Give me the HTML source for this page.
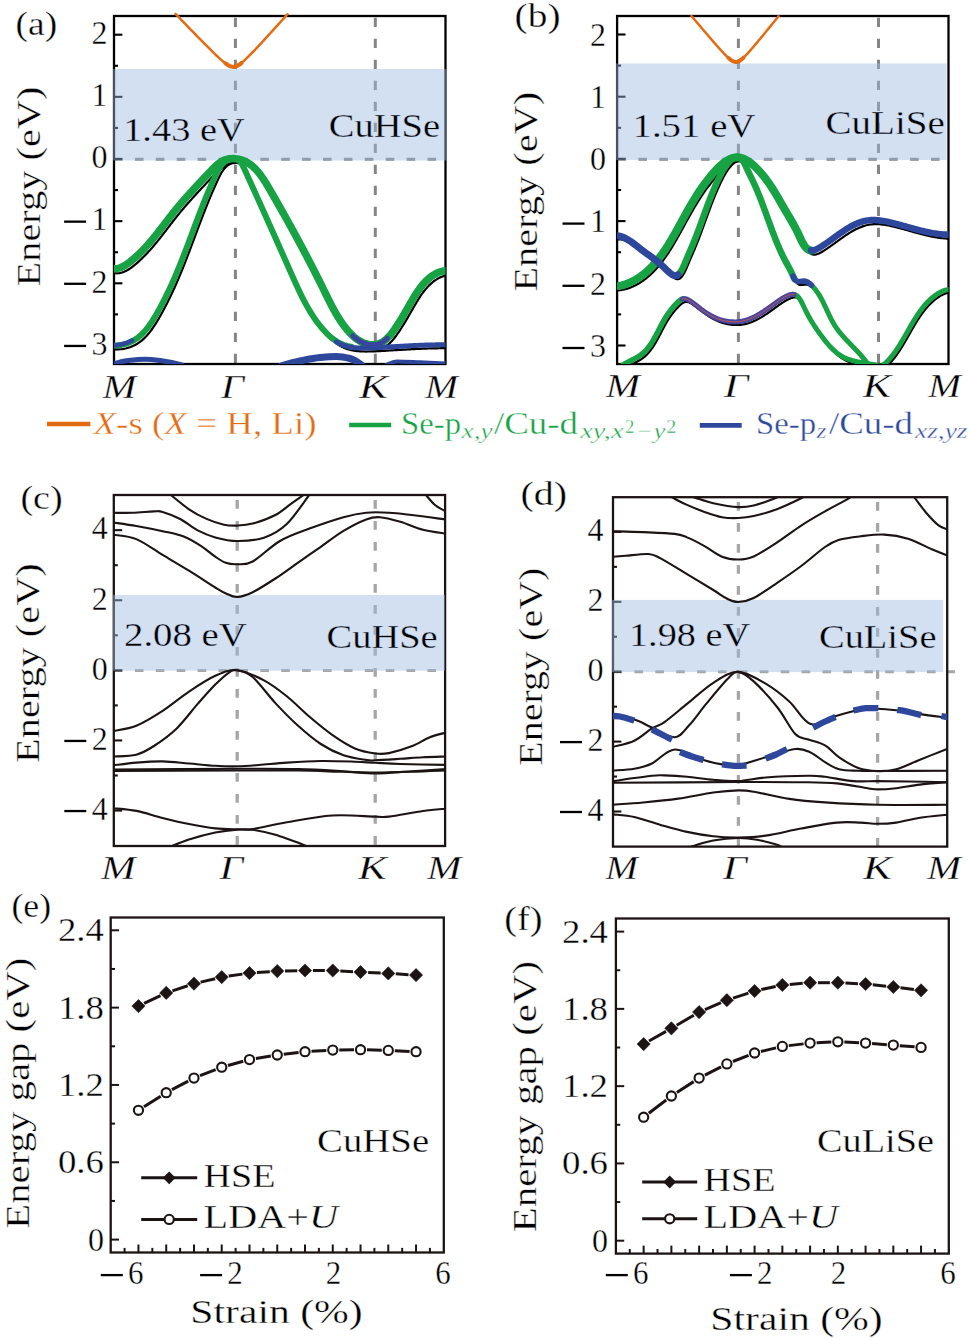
<!DOCTYPE html><html><head><meta charset="utf-8"><style>html,body{margin:0;padding:0;background:#fff;width:969px;height:1338px;overflow:hidden}svg{display:block}text{font-family:"Liberation Serif",serif;stroke:#fff;stroke-width:0.35px}</style></head><body>
<svg width="969" height="1338" viewBox="0 0 969 1338">
<rect width="969" height="1338" fill="#fff"/>
<clipPath id="ca"><rect x="114" y="16" width="331.5" height="348"/></clipPath>
<line x1="114" y1="159.2" x2="446" y2="159.2" stroke="#858585" stroke-width="3" stroke-dasharray="8.6 12.3" stroke-dashoffset="0"/>
<line x1="235.4" y1="17.8" x2="235.4" y2="364" stroke="#858585" stroke-width="3" stroke-dasharray="9.2 11.8" stroke-dashoffset="0"/>
<line x1="375.3" y1="17.8" x2="375.3" y2="364" stroke="#858585" stroke-width="3" stroke-dasharray="9.2 11.8" stroke-dashoffset="0"/>
<rect x="114" y="16" width="331.5" height="348" fill="none" stroke="#000" stroke-width="2.3"/>
<line x1="114" y1="34.7" x2="122.4" y2="34.7" stroke="#000" stroke-width="2.1"/>
<line x1="114" y1="96.85" x2="122.4" y2="96.85" stroke="#000" stroke-width="2.1"/>
<line x1="114" y1="159" x2="122.4" y2="159" stroke="#000" stroke-width="2.1"/>
<line x1="114" y1="221.15" x2="122.4" y2="221.15" stroke="#000" stroke-width="2.1"/>
<line x1="114" y1="283.3" x2="122.4" y2="283.3" stroke="#000" stroke-width="2.1"/>
<line x1="114" y1="345.45" x2="122.4" y2="345.45" stroke="#000" stroke-width="2.1"/>
<line x1="114" y1="65.78" x2="118" y2="65.78" stroke="#000" stroke-width="2.1"/>
<line x1="114" y1="127.92" x2="118" y2="127.92" stroke="#000" stroke-width="2.1"/>
<line x1="114" y1="190.07" x2="118" y2="190.07" stroke="#000" stroke-width="2.1"/>
<line x1="114" y1="252.22" x2="118" y2="252.22" stroke="#000" stroke-width="2.1"/>
<line x1="114" y1="314.38" x2="118" y2="314.38" stroke="#000" stroke-width="2.1"/>
<rect x="113" y="69" width="333.5" height="91.5" fill="rgba(155,186,226,0.45)"/>
<g clip-path="url(#ca)">
<path d="M86.56,252.37 L87.37,253.33 L88.24,254.34 L89.15,255.38 L90.11,256.45 L91.12,257.54 L92.17,258.64 L93.26,259.75 L94.39,260.87 L95.55,261.98 L96.75,263.07 L97.97,264.15 L99.22,265.2 L100.5,266.21 L101.8,267.19 L103.12,268.12 L104.46,268.99 L105.81,269.8 L107.17,270.55 L108.55,271.22 L109.93,271.81 L111.32,272.31 L112.71,272.71 L114.09,273.01 L115.48,273.2 L116.86,273.28 L118.23,273.23 L119.6,273.07 L120.95,272.79 L122.3,272.41 L123.63,271.94 L124.96,271.37 L126.27,270.73 L127.57,270.01 L128.85,269.23 L130.12,268.39 L131.38,267.51 L132.62,266.58 L133.85,265.61 L135.06,264.62 L136.26,263.61 L137.44,262.59 L138.6,261.56 L139.74,260.52 L140.87,259.46 L141.98,258.4 L143.08,257.33 L144.16,256.25 L145.23,255.17 L146.29,254.07 L147.34,252.97 L148.37,251.86 L149.39,250.74 L150.4,249.62 L151.4,248.49 L152.39,247.35 L153.37,246.21 L154.35,245.06 L155.31,243.91 L156.27,242.75 L157.22,241.59 L158.16,240.42 L159.1,239.26 L160.03,238.08 L160.96,236.91 L161.88,235.73 L162.8,234.55 L163.72,233.37 L164.63,232.19 L165.54,231 L166.45,229.82 L167.36,228.63 L168.27,227.45 L169.18,226.26 L170.09,225.08 L171,223.89 L171.91,222.71 L172.83,221.53 L173.75,220.35 L174.67,219.17 L175.59,217.99 L176.52,216.82 L177.46,215.65 L178.4,214.49 L179.35,213.32 L180.3,212.17 L181.26,211.01 L182.22,209.86 L183.19,208.72 L184.17,207.57 L185.15,206.43 L186.14,205.3 L187.13,204.16 L188.12,203.03 L189.12,201.91 L190.12,200.78 L191.13,199.66 L192.14,198.54 L193.15,197.43 L194.16,196.31 L195.18,195.2 L196.2,194.09 L197.22,192.99 L198.24,191.88 L199.27,190.78 L200.29,189.68 L201.32,188.58 L202.34,187.48 L203.37,186.38 L204.4,185.29 L205.42,184.19 L206.45,183.1 L207.47,182.01 L208.5,180.91 L209.54,179.82 L210.58,178.72 L211.62,177.61 L212.68,176.5 L213.75,175.38 L214.83,174.25 L215.93,173.12 L217.05,172.01 L218.19,170.91 L219.35,169.85 L220.53,168.83 L221.74,167.86 L222.98,166.96 L224.25,166.13 L225.56,165.39 L226.9,164.75 L228.27,164.21 L229.68,163.77 L231.11,163.43 L232.56,163.18 L234.03,163.03 L235.5,162.97 L236.98,162.99 L238.46,163.1 L239.93,163.28 L241.39,163.55 L242.83,163.88 L244.24,164.29 L245.63,164.76 L246.99,165.29 L248.31,165.89 L249.59,166.54 L250.83,167.25 L252.04,168.02 L253.21,168.83 L254.36,169.7 L255.47,170.61 L256.55,171.56 L257.6,172.56 L258.63,173.59 L259.63,174.67 L260.61,175.77 L261.57,176.91 L262.5,178.08 L263.42,179.28 L264.31,180.5 L265.19,181.75 L266.05,183.02 L266.9,184.3 L267.74,185.6 L268.56,186.92 L269.38,188.24 L270.18,189.58 L270.98,190.92 L271.77,192.27 L272.56,193.61 L273.34,194.96 L274.12,196.31 L274.9,197.65 L275.67,198.99 L276.45,200.33 L277.22,201.67 L277.99,203.01 L278.75,204.34 L279.52,205.68 L280.28,207.01 L281.04,208.34 L281.8,209.67 L282.55,210.99 L283.31,212.32 L284.06,213.65 L284.81,214.97 L285.55,216.29 L286.3,217.61 L287.04,218.93 L287.78,220.25 L288.52,221.57 L289.26,222.89 L289.99,224.21 L290.72,225.52 L291.45,226.84 L292.18,228.15 L292.91,229.47 L293.64,230.78 L294.36,232.1 L295.08,233.41 L295.8,234.72 L296.52,236.03 L297.24,237.35 L297.95,238.66 L298.67,239.97 L299.38,241.28 L300.09,242.59 L300.8,243.9 L301.5,245.22 L302.21,246.53 L302.91,247.84 L303.61,249.15 L304.32,250.47 L305.02,251.78 L305.71,253.09 L306.41,254.41 L307.11,255.72 L307.8,257.04 L308.49,258.35 L309.18,259.67 L309.87,260.98 L310.56,262.3 L311.25,263.62 L311.94,264.94 L312.62,266.26 L313.31,267.58 L313.99,268.91 L314.67,270.23 L315.35,271.55 L316.03,272.88 L316.71,274.21 L317.39,275.54 L318.07,276.87 L318.74,278.2 L319.42,279.53 L320.09,280.87 L320.76,282.21 L321.44,283.54 L322.11,284.88 L322.78,286.23 L323.45,287.57 L324.12,288.92 L324.79,290.26 L325.45,291.61 L326.12,292.97 L326.79,294.32 L327.45,295.68 L328.12,297.03 L328.78,298.39 L329.45,299.75 L330.12,301.12 L330.79,302.48 L331.46,303.84 L332.14,305.19 L332.83,306.55 L333.51,307.9 L334.21,309.25 L334.91,310.6 L335.62,311.94 L336.34,313.28 L337.06,314.61 L337.8,315.93 L338.55,317.25 L339.31,318.56 L340.08,319.86 L340.86,321.16 L341.66,322.44 L342.47,323.72 L343.3,324.98 L344.14,326.23 L345,327.47 L345.88,328.7 L346.78,329.92 L347.69,331.12 L348.62,332.31 L349.58,333.48 L350.55,334.64 L351.55,335.78 L352.57,336.91 L353.61,338.02 L354.68,339.1 L355.78,340.17 L356.92,341.19 L358.09,342.18 L359.3,343.13 L360.56,344.03 L361.86,344.88 L363.22,345.67 L364.62,346.4 L366.05,347.05 L367.5,347.63 L368.98,348.14 L370.47,348.55 L371.96,348.88 L373.45,349.11 L374.92,349.24 L376.38,349.26 L377.82,349.17 L379.22,348.96 L380.58,348.64 L381.91,348.21 L383.2,347.67 L384.46,347.03 L385.69,346.31 L386.88,345.5 L388.04,344.61 L389.17,343.65 L390.28,342.63 L391.35,341.55 L392.4,340.41 L393.42,339.24 L394.41,338.02 L395.38,336.78 L396.33,335.5 L397.25,334.22 L398.16,332.91 L399.04,331.61 L399.9,330.31 L400.74,329.01 L401.56,327.72 L402.37,326.44 L403.17,325.17 L403.95,323.9 L404.71,322.64 L405.47,321.38 L406.22,320.12 L406.97,318.86 L407.71,317.6 L408.44,316.34 L409.17,315.07 L409.9,313.8 L410.64,312.53 L411.37,311.24 L412.11,309.94 L412.86,308.64 L413.61,307.32 L414.37,306 L415.14,304.68 L415.92,303.35 L416.71,302.03 L417.51,300.7 L418.32,299.39 L419.15,298.08 L420,296.78 L420.87,295.49 L421.75,294.22 L422.65,292.96 L423.57,291.73 L424.51,290.52 L425.48,289.33 L426.47,288.17 L427.48,287.03 L428.52,285.93 L429.59,284.87 L430.69,283.84 L431.81,282.85 L432.97,281.9 L434.16,281 L435.38,280.14 L436.64,279.33 L437.93,278.57 L439.25,277.86 L440.6,277.22 L441.98,276.66 L443.38,276.18 L444.79,275.78 L446.22,275.49 L447.65,275.3 L449.09,275.23 L450.52,275.27 L451.95,275.44 L453.37,275.72 L454.77,276.1 L456.15,276.58 L457.51,277.16 L458.84,277.83 L460.13,278.58 L461.39,279.41 L462.61,280.31 L463.79,281.28 L464.94,282.31 L466.06,283.39 L467.15,284.53 L468.21,285.71 L469.24,286.93 L470.25,288.18 L471.23,289.47 L472.19,290.77 L473.13,292.1 L474.04,293.43 L474.94,294.77 L475.81,296.12 L476.68,297.45 L477.52,298.78 L478.36,300.1 L479.18,301.39 L479.98,302.65 L480.78,303.89 L481.58,305.09 L482.36,306.24 L483.14,307.35 L483.92,308.4 L484.69,309.39" fill="none" stroke="#000" stroke-width="2.2" stroke-linecap="round" stroke-linejoin="round" />
<path d="M91.91,341.05 L93.09,342 L94.31,342.9 L95.56,343.74 L96.86,344.52 L98.18,345.24 L99.53,345.91 L100.92,346.51 L102.32,347.06 L103.75,347.55 L105.2,347.98 L106.67,348.36 L108.15,348.68 L109.65,348.95 L111.16,349.16 L112.67,349.31 L114.19,349.41 L115.71,349.45 L117.23,349.44 L118.75,349.37 L120.27,349.25 L121.78,349.08 L123.28,348.85 L124.76,348.57 L126.24,348.24 L127.69,347.86 L129.13,347.42 L130.54,346.93 L131.93,346.39 L133.29,345.8 L134.62,345.16 L135.92,344.47 L137.18,343.73 L138.42,342.94 L139.62,342.1 L140.79,341.23 L141.93,340.3 L143.04,339.34 L144.13,338.35 L145.19,337.31 L146.22,336.25 L147.23,335.15 L148.21,334.02 L149.17,332.86 L150.12,331.68 L151.04,330.47 L151.94,329.24 L152.82,327.99 L153.69,326.73 L154.53,325.45 L155.37,324.15 L156.19,322.84 L156.99,321.52 L157.79,320.2 L158.57,318.87 L159.34,317.53 L160.1,316.19 L160.85,314.86 L161.6,313.52 L162.34,312.18 L163.06,310.84 L163.79,309.5 L164.5,308.16 L165.2,306.82 L165.9,305.48 L166.59,304.13 L167.28,302.79 L167.96,301.44 L168.63,300.1 L169.29,298.75 L169.95,297.4 L170.6,296.06 L171.25,294.71 L171.88,293.35 L172.52,292 L173.15,290.65 L173.77,289.29 L174.39,287.93 L175,286.58 L175.61,285.21 L176.21,283.85 L176.81,282.49 L177.4,281.12 L177.99,279.75 L178.58,278.38 L179.16,277.01 L179.74,275.64 L180.31,274.26 L180.88,272.88 L181.45,271.5 L182.01,270.12 L182.58,268.74 L183.13,267.35 L183.69,265.96 L184.24,264.57 L184.79,263.18 L185.34,261.79 L185.89,260.39 L186.43,259 L186.97,257.6 L187.51,256.2 L188.05,254.8 L188.59,253.4 L189.12,252 L189.65,250.59 L190.19,249.19 L190.72,247.78 L191.25,246.38 L191.78,244.97 L192.31,243.56 L192.83,242.15 L193.36,240.74 L193.89,239.34 L194.42,237.93 L194.94,236.51 L195.47,235.1 L196,233.69 L196.53,232.28 L197.05,230.87 L197.58,229.46 L198.11,228.05 L198.64,226.64 L199.18,225.23 L199.71,223.82 L200.24,222.41 L200.78,221 L201.32,219.59 L201.85,218.18 L202.39,216.77 L202.94,215.37 L203.48,213.96 L204.03,212.55 L204.58,211.15 L205.13,209.75 L205.68,208.34 L206.24,206.94 L206.8,205.54 L207.36,204.14 L207.93,202.74 L208.5,201.35 L209.07,199.95 L209.65,198.56 L210.23,197.17 L210.81,195.78 L211.4,194.39 L211.99,193 L212.58,191.62 L213.18,190.23 L213.79,188.85 L214.4,187.47 L215.01,186.1 L215.63,184.72 L216.25,183.35 L216.88,181.98 L217.52,180.61 L218.15,179.25 L218.8,177.88 L219.45,176.52 L220.12,175.18 L220.82,173.84 L221.56,172.54 L222.36,171.26 L223.22,170.02 L224.16,168.83 L225.19,167.69 L226.32,166.61 L227.56,165.6 L228.89,164.68 L230.29,163.87 L231.73,163.2 L233.2,162.68 L234.66,162.35 L236.09,162.23 L237.47,162.34 L238.78,162.7 L240.01,163.29 L241.15,164.09 L242.21,165.06 L243.18,166.16 L244.05,167.36 L244.85,168.63 L245.58,169.95 L246.25,171.31 L246.9,172.7 L247.54,174.09 L248.17,175.49 L248.81,176.88 L249.44,178.27 L250.07,179.66 L250.7,181.05 L251.33,182.44 L251.96,183.83 L252.59,185.21 L253.22,186.6 L253.84,187.98 L254.47,189.36 L255.1,190.74 L255.72,192.13 L256.35,193.51 L256.97,194.88 L257.59,196.26 L258.22,197.64 L258.84,199.02 L259.46,200.39 L260.08,201.77 L260.7,203.14 L261.32,204.52 L261.94,205.89 L262.56,207.26 L263.18,208.64 L263.79,210.01 L264.41,211.38 L265.03,212.75 L265.64,214.12 L266.26,215.49 L266.87,216.86 L267.49,218.23 L268.1,219.6 L268.72,220.97 L269.33,222.33 L269.95,223.7 L270.56,225.07 L271.17,226.44 L271.78,227.8 L272.4,229.17 L273.01,230.54 L273.62,231.9 L274.23,233.27 L274.84,234.64 L275.45,236 L276.07,237.37 L276.68,238.74 L277.29,240.1 L277.9,241.47 L278.51,242.84 L279.12,244.21 L279.73,245.57 L280.34,246.94 L280.95,248.31 L281.56,249.68 L282.17,251.05 L282.78,252.41 L283.38,253.78 L283.99,255.15 L284.6,256.52 L285.21,257.89 L285.82,259.26 L286.43,260.63 L287.04,262.01 L287.65,263.38 L288.26,264.75 L288.87,266.12 L289.48,267.5 L290.09,268.87 L290.7,270.25 L291.31,271.62 L291.92,273 L292.53,274.38 L293.14,275.76 L293.75,277.14 L294.36,278.52 L294.98,279.9 L295.59,281.28 L296.2,282.66 L296.82,284.04 L297.44,285.42 L298.06,286.8 L298.69,288.18 L299.31,289.55 L299.95,290.93 L300.58,292.3 L301.22,293.67 L301.87,295.03 L302.52,296.4 L303.18,297.76 L303.84,299.12 L304.51,300.47 L305.19,301.82 L305.88,303.16 L306.57,304.5 L307.27,305.84 L307.99,307.17 L308.71,308.49 L309.44,309.81 L310.18,311.12 L310.93,312.43 L311.69,313.73 L312.46,315.02 L313.25,316.3 L314.04,317.58 L314.85,318.85 L315.67,320.11 L316.51,321.36 L317.36,322.6 L318.22,323.83 L319.1,325.06 L319.99,326.27 L320.9,327.48 L321.82,328.67 L322.76,329.85 L323.72,331.03 L324.69,332.19 L325.69,333.34 L326.7,334.47 L327.72,335.59 L328.77,336.68 L329.83,337.75 L330.92,338.8 L332.02,339.82 L333.15,340.8 L334.29,341.76 L335.46,342.68 L336.65,343.56 L337.86,344.4 L339.09,345.19 L340.34,345.94 L341.62,346.65 L342.92,347.3 L344.25,347.89 L345.6,348.44 L346.97,348.93 L348.36,349.37 L349.77,349.76 L351.21,350.1 L352.66,350.4 L354.12,350.66 L355.6,350.88 L357.1,351.06 L358.6,351.21 L360.12,351.33 L361.65,351.42 L363.18,351.48 L364.72,351.52 L366.27,351.53 L367.82,351.52 L369.38,351.5 L370.93,351.46 L372.49,351.41 L374.04,351.35 L375.6,351.28 L377.15,351.2 L378.69,351.12 L380.23,351.04 L381.76,350.96 L383.29,350.87 L384.81,350.79 L386.33,350.7 L387.84,350.61 L389.35,350.52 L390.85,350.43 L392.35,350.35 L393.85,350.26 L395.35,350.17 L396.84,350.08 L398.33,349.99 L399.81,349.9 L401.3,349.81 L402.78,349.72 L404.26,349.63 L405.74,349.55 L407.22,349.46 L408.7,349.38 L410.18,349.3 L411.66,349.22 L413.13,349.14 L414.61,349.07 L416.09,348.99 L417.57,348.92 L419.05,348.85 L420.53,348.79 L422.02,348.73 L423.5,348.67 L424.99,348.61 L426.48,348.56 L427.97,348.51 L429.47,348.46 L430.96,348.42 L432.46,348.38 L433.96,348.34 L435.46,348.31 L436.96,348.28 L438.46,348.25 L439.96,348.23 L441.47,348.2 L442.97,348.19 L444.48,348.17 L445.99,348.16 L447.5,348.15 L449.01,348.15 L450.52,348.15 L452.03,348.15 L453.54,348.16 L455.06,348.17 L456.57,348.18 L458.08,348.19 L459.6,348.21 L461.11,348.24 L462.63,348.26 L464.14,348.29 L465.66,348.32 L467.17,348.36 L468.69,348.4 L470.2,348.44 L471.71,348.49 L473.23,348.54 L474.74,348.59 L476.25,348.64 L477.77,348.7 L479.28,348.77 L480.79,348.83 L482.3,348.9 L483.81,348.98 L485.32,349.05 L486.83,349.13 L488.33,349.22 L489.84,349.3 L491.35,349.39 L492.85,349.49 L494.35,349.58 L495.85,349.69 L497.35,349.79 L498.85,349.9 L500.34,350.01 L501.84,350.12 L503.33,350.24 L504.82,350.36 L506.31,350.49 L507.8,350.62 L509.28,350.75 L510.77,350.89 L512.25,351.03 L513.73,351.17 L515.2,351.31 L516.68,351.46 L518.15,351.62" fill="none" stroke="#000" stroke-width="2.2" stroke-linecap="round" stroke-linejoin="round" />
<path d="M83.56,247.97 L84.37,248.93 L85.24,249.94 L86.15,250.98 L87.11,252.05 L88.12,253.14 L89.17,254.24 L90.26,255.35 L91.39,256.47 L92.55,257.58 L93.75,258.67 L94.97,259.75 L96.22,260.8 L97.5,261.81 L98.8,262.79 L100.12,263.72 L101.46,264.59 L102.81,265.4 L104.17,266.15 L105.55,266.82 L106.93,267.41 L108.32,267.91 L109.71,268.31 L111.09,268.61 L112.48,268.8 L113.86,268.88 L115.23,268.83 L116.6,268.67 L117.95,268.39 L119.3,268.01 L120.63,267.54 L121.96,266.97 L123.27,266.33 L124.57,265.61 L125.85,264.83 L127.12,263.99 L128.38,263.11 L129.62,262.18 L130.85,261.21 L132.06,260.22 L133.26,259.21 L134.44,258.19 L135.6,257.16 L136.74,256.12 L137.87,255.06 L138.98,254 L140.08,252.93 L141.16,251.85 L142.23,250.77 L143.29,249.67 L144.34,248.57 L145.37,247.46 L146.39,246.34 L147.4,245.22 L148.4,244.09 L149.39,242.95 L150.37,241.81 L151.35,240.66 L152.31,239.51 L153.27,238.35 L154.22,237.19 L155.16,236.02 L156.1,234.86 L157.03,233.68 L157.96,232.51 L158.88,231.33 L159.8,230.15 L160.72,228.97 L161.63,227.79 L162.54,226.6 L163.45,225.42 L164.36,224.23 L165.27,223.05 L166.18,221.86 L167.09,220.68 L168,219.49 L168.91,218.31 L169.83,217.13 L170.75,215.95 L171.67,214.77 L172.59,213.59 L173.52,212.42 L174.46,211.25 L175.4,210.09 L176.35,208.92 L177.3,207.77 L178.26,206.61 L179.22,205.46 L180.19,204.32 L181.17,203.17 L182.15,202.03 L183.14,200.9 L184.13,199.76 L185.12,198.63 L186.12,197.51 L187.12,196.38 L188.13,195.26 L189.14,194.14 L190.15,193.03 L191.16,191.91 L192.18,190.8 L193.2,189.69 L194.22,188.59 L195.24,187.48 L196.27,186.38 L197.29,185.28 L198.32,184.18 L199.34,183.08 L200.37,181.98 L201.4,180.89 L202.42,179.79 L203.45,178.7 L204.47,177.61 L205.5,176.51 L206.54,175.42 L207.58,174.32 L208.62,173.21 L209.68,172.1 L210.75,170.98 L211.83,169.85 L212.93,168.72 L214.05,167.61 L215.19,166.51 L216.35,165.45 L217.53,164.43 L218.74,163.46 L219.98,162.56 L221.25,161.73 L222.56,160.99 L223.9,160.35 L225.27,159.81 L226.68,159.37 L228.11,159.03 L229.56,158.78 L231.03,158.63 L232.5,158.57 L233.98,158.59 L235.46,158.7 L236.93,158.88 L238.39,159.15 L239.83,159.48 L241.24,159.89 L242.63,160.36 L243.99,160.89 L245.31,161.49 L246.59,162.14 L247.83,162.85 L249.04,163.62 L250.21,164.43 L251.36,165.3 L252.47,166.21 L253.55,167.16 L254.6,168.16 L255.63,169.19 L256.63,170.27 L257.61,171.37 L258.57,172.51 L259.5,173.68 L260.42,174.88 L261.31,176.1 L262.19,177.35 L263.05,178.62 L263.9,179.9 L264.74,181.2 L265.56,182.52 L266.38,183.84 L267.18,185.18 L267.98,186.52 L268.77,187.87 L269.56,189.21 L270.34,190.56 L271.12,191.91 L271.9,193.25 L272.67,194.59 L273.45,195.93 L274.22,197.27 L274.99,198.61 L275.75,199.94 L276.52,201.28 L277.28,202.61 L278.04,203.94 L278.8,205.27 L279.55,206.59 L280.31,207.92 L281.06,209.25 L281.81,210.57 L282.55,211.89 L283.3,213.21 L284.04,214.53 L284.78,215.85 L285.52,217.17 L286.26,218.49 L286.99,219.81 L287.72,221.12 L288.45,222.44 L289.18,223.75 L289.91,225.07 L290.64,226.38 L291.36,227.7 L292.08,229.01 L292.8,230.32 L293.52,231.63 L294.24,232.95 L294.95,234.26 L295.67,235.57 L296.38,236.88 L297.09,238.19 L297.8,239.5 L298.5,240.82 L299.21,242.13 L299.91,243.44 L300.61,244.75 L301.32,246.07 L302.02,247.38 L302.71,248.69 L303.41,250.01 L304.11,251.32 L304.8,252.64 L305.49,253.95 L306.18,255.27 L306.87,256.58 L307.56,257.9 L308.25,259.22 L308.94,260.54 L309.62,261.86 L310.31,263.18 L310.99,264.51 L311.67,265.83 L312.35,267.15 L313.03,268.48 L313.71,269.81 L314.39,271.14 L315.07,272.47 L315.74,273.8 L316.42,275.13 L317.09,276.47 L317.76,277.81 L318.44,279.14 L319.11,280.48 L319.78,281.83 L320.45,283.17 L321.12,284.52 L321.79,285.86 L322.45,287.21 L323.12,288.57 L323.79,289.92 L324.45,291.28 L325.12,292.63 L325.78,293.99 L326.45,295.35 L327.12,296.72 L327.79,298.08 L328.46,299.44 L329.14,300.79 L329.83,302.15 L330.51,303.5 L331.21,304.85 L331.91,306.2 L332.62,307.54 L333.34,308.88 L334.06,310.21 L334.8,311.53 L335.55,312.85 L336.31,314.16 L337.08,315.46 L337.86,316.76 L338.66,318.04 L339.47,319.32 L340.3,320.58 L341.14,321.83 L342,323.07 L342.88,324.3 L343.78,325.52 L344.69,326.72 L345.62,327.91 L346.58,329.08 L347.55,330.24 L348.55,331.38 L349.57,332.51 L350.61,333.62 L351.68,334.7 L352.78,335.77 L353.92,336.79 L355.09,337.78 L356.3,338.73 L357.56,339.63 L358.86,340.48 L360.22,341.27 L361.62,342 L363.05,342.65 L364.5,343.23 L365.98,343.74 L367.47,344.15 L368.96,344.48 L370.45,344.71 L371.92,344.84 L373.38,344.86 L374.82,344.77 L376.22,344.56 L377.58,344.24 L378.91,343.81 L380.2,343.27 L381.46,342.63 L382.69,341.91 L383.88,341.1 L385.04,340.21 L386.17,339.25 L387.28,338.23 L388.35,337.15 L389.4,336.01 L390.42,334.84 L391.41,333.62 L392.38,332.38 L393.33,331.1 L394.25,329.82 L395.16,328.51 L396.04,327.21 L396.9,325.91 L397.74,324.61 L398.56,323.32 L399.37,322.04 L400.17,320.77 L400.95,319.5 L401.71,318.24 L402.47,316.98 L403.22,315.72 L403.97,314.46 L404.71,313.2 L405.44,311.94 L406.17,310.67 L406.9,309.4 L407.64,308.13 L408.37,306.84 L409.11,305.54 L409.86,304.24 L410.61,302.92 L411.37,301.6 L412.14,300.28 L412.92,298.95 L413.71,297.63 L414.51,296.3 L415.32,294.99 L416.15,293.68 L417,292.38 L417.87,291.09 L418.75,289.82 L419.65,288.56 L420.57,287.33 L421.51,286.12 L422.48,284.93 L423.47,283.77 L424.48,282.63 L425.52,281.53 L426.59,280.47 L427.69,279.44 L428.81,278.45 L429.97,277.5 L431.16,276.6 L432.38,275.74 L433.64,274.93 L434.93,274.17 L436.25,273.46 L437.6,272.82 L438.98,272.26 L440.38,271.78 L441.79,271.38 L443.22,271.09 L444.65,270.9 L446.09,270.83 L447.52,270.87 L448.95,271.04 L450.37,271.32 L451.77,271.7 L453.15,272.18 L454.51,272.76 L455.84,273.43 L457.13,274.18 L458.39,275.01 L459.61,275.91 L460.79,276.88 L461.94,277.91 L463.06,278.99 L464.15,280.13 L465.21,281.31 L466.24,282.53 L467.25,283.78 L468.23,285.07 L469.19,286.37 L470.13,287.7 L471.04,289.03 L471.94,290.37 L472.81,291.72 L473.68,293.05 L474.52,294.38 L475.36,295.7 L476.18,296.99 L476.98,298.25 L477.78,299.49 L478.58,300.69 L479.36,301.84 L480.14,302.95 L480.92,304 L481.69,304.99" fill="none" stroke="#17a244" stroke-width="7.5" stroke-linecap="round" stroke-linejoin="round" />
<path d="M101.15,343.65 L102.6,344.08 L104.07,344.46 L105.55,344.78 L107.05,345.05 L108.56,345.26 L110.07,345.41 L111.59,345.51 L113.11,345.55 L114.63,345.54 L116.15,345.47 L117.67,345.35 L119.18,345.18 L120.68,344.95 L122.16,344.67 L123.64,344.34 L125.09,343.96 L126.53,343.52 L127.94,343.03 L129.33,342.49 L130.69,341.9 L132.02,341.26 L133.32,340.57 L134.58,339.83 L135.82,339.04 L137.02,338.2 L138.19,337.33 L139.33,336.4 L140.44,335.44 L141.53,334.45 L142.59,333.41 L143.62,332.35 L144.63,331.25 L145.61,330.12 L146.57,328.96 L147.52,327.78 L148.44,326.57 L149.34,325.34 L150.22,324.09 L151.09,322.83 L151.93,321.55 L152.77,320.25 L153.59,318.94 L154.39,317.62 L155.19,316.3 L155.97,314.97 L156.74,313.63 L157.5,312.29 L158.25,310.96 L159,309.62 L159.74,308.28 L160.46,306.94 L161.19,305.6 L161.9,304.26 L162.6,302.92 L163.3,301.58 L163.99,300.23 L164.68,298.89 L165.36,297.54 L166.03,296.2 L166.69,294.85 L167.35,293.5 L168,292.16 L168.65,290.81 L169.28,289.45 L169.92,288.1 L170.55,286.75 L171.17,285.39 L171.79,284.03 L172.4,282.68 L173.01,281.31 L173.61,279.95 L174.21,278.59 L174.8,277.22 L175.39,275.85 L175.98,274.48 L176.56,273.11 L177.14,271.74 L177.71,270.36 L178.28,268.98 L178.85,267.6 L179.41,266.22 L179.98,264.84 L180.53,263.45 L181.09,262.06 L181.64,260.67 L182.19,259.28 L182.74,257.89 L183.29,256.49 L183.83,255.1 L184.37,253.7 L184.91,252.3 L185.45,250.9 L185.99,249.5 L186.52,248.1 L187.05,246.69 L187.59,245.29 L188.12,243.88 L188.65,242.48 L189.18,241.07 L189.71,239.66 L190.23,238.25 L190.76,236.84 L191.29,235.44 L191.82,234.03 L192.34,232.61 L192.87,231.2 L193.4,229.79 L193.93,228.38 L194.45,226.97 L194.98,225.56 L195.51,224.15 L196.04,222.74 L196.58,221.33 L197.11,219.92 L197.64,218.51 L198.18,217.1 L198.72,215.69 L199.25,214.28 L199.79,212.87 L200.34,211.47 L200.88,210.06 L201.43,208.65 L201.98,207.25 L202.53,205.85 L203.08,204.44 L203.64,203.04 L204.2,201.64 L204.76,200.24 L205.33,198.84 L205.9,197.45 L206.47,196.05 L207.05,194.66 L207.63,193.27 L208.21,191.88 L208.8,190.49 L209.39,189.1 L209.98,187.72 L210.58,186.33 L211.19,184.95 L211.8,183.57 L212.41,182.2 L213.03,180.82 L213.65,179.45 L214.28,178.08 L214.92,176.71 L215.55,175.35 L216.2,173.98 L216.85,172.62 L217.52,171.28 L218.22,169.94 L218.96,168.64 L219.76,167.36 L220.62,166.12 L221.56,164.93 L222.59,163.79 L223.72,162.71 L224.96,161.7 L226.29,160.78 L227.69,159.97 L229.13,159.3 L230.6,158.78 L232.06,158.45 L233.49,158.33 L234.87,158.44 L236.18,158.8 L237.41,159.39 L238.55,160.19 L239.61,161.16 L240.58,162.26 L241.45,163.46 L242.25,164.73 L242.98,166.05 L243.65,167.41 L244.3,168.8 L244.94,170.19 L245.57,171.59 L246.21,172.98 L246.84,174.37 L247.47,175.76 L248.1,177.15 L248.73,178.54 L249.36,179.93 L249.99,181.31 L250.62,182.7 L251.24,184.08 L251.87,185.46 L252.5,186.84 L253.12,188.23 L253.75,189.61 L254.37,190.98 L254.99,192.36 L255.62,193.74 L256.24,195.12 L256.86,196.49 L257.48,197.87 L258.1,199.24 L258.72,200.62 L259.34,201.99 L259.96,203.36 L260.58,204.74 L261.19,206.11 L261.81,207.48 L262.43,208.85 L263.04,210.22 L263.66,211.59 L264.27,212.96 L264.89,214.33 L265.5,215.7 L266.12,217.07 L266.73,218.43 L267.35,219.8 L267.96,221.17 L268.57,222.54 L269.18,223.9 L269.8,225.27 L270.41,226.64 L271.02,228 L271.63,229.37 L272.24,230.74 L272.85,232.1 L273.47,233.47 L274.08,234.84 L274.69,236.2 L275.3,237.57 L275.91,238.94 L276.52,240.31 L277.13,241.67 L277.74,243.04 L278.35,244.41 L278.96,245.78 L279.57,247.15 L280.18,248.51 L280.78,249.88 L281.39,251.25 L282,252.62 L282.61,253.99 L283.22,255.36 L283.83,256.73 L284.44,258.11 L285.05,259.48 L285.66,260.85 L286.27,262.22 L286.88,263.6 L287.49,264.97 L288.1,266.35 L288.71,267.72 L289.32,269.1 L289.93,270.48 L290.54,271.86 L291.15,273.24 L291.76,274.62 L292.38,276 L292.99,277.38 L293.6,278.76 L294.22,280.14 L294.84,281.52 L295.46,282.9 L296.09,284.28 L296.71,285.65 L297.35,287.03 L297.98,288.4 L298.62,289.77 L299.27,291.13 L299.92,292.5 L300.58,293.86 L301.24,295.22 L301.91,296.57 L302.59,297.92 L303.28,299.26 L303.97,300.6 L304.67,301.94 L305.39,303.27 L306.11,304.59 L306.84,305.91 L307.58,307.22 L308.33,308.53 L309.09,309.83 L309.86,311.12 L310.65,312.4 L311.44,313.68 L312.25,314.95 L313.07,316.21 L313.91,317.46 L314.76,318.7 L315.62,319.93 L316.5,321.16 L317.39,322.37 L318.3,323.58 L319.22,324.77 L320.16,325.95 L321.12,327.13 L322.09,328.29 L323.09,329.44 L324.1,330.57 L325.12,331.69 L326.17,332.78 L327.23,333.85 L328.32,334.9 L329.42,335.92 L330.55,336.9 L331.69,337.86 L332.86,338.78 L334.05,339.66 L335.26,340.5 L336.49,341.29 L337.74,342.04 L339.02,342.75 L340.32,343.4 L341.65,343.99 L343,344.54 L344.37,345.03 L345.76,345.47 L347.17,345.86 L348.61,346.2 L350.06,346.5 L351.52,346.76" fill="none" stroke="#17a244" stroke-width="6" stroke-linecap="round" stroke-linejoin="round" />
<path d="M352.78,335.77 L353.92,336.79 L355.09,337.78 L356.3,338.73 L357.56,339.63 L358.86,340.48 L360.22,341.27 L361.62,342 L363.05,342.65 L364.5,343.23 L365.98,343.74 L367.47,344.15 L368.96,344.48 L370.45,344.71 L371.92,344.84 L373.38,344.86 L374.82,344.77 L376.22,344.56 L377.58,344.24 L378.91,343.81 L380.2,343.27 L381.46,342.63 L382.69,341.91 L383.88,341.1 L385.04,340.21 L386.17,339.25 L387.28,338.23" fill="none" stroke="#3a44a0" stroke-width="5" stroke-linecap="round" stroke-linejoin="round" />
<path d="M112,345.5 C115.33,345.5 118.67,344.91 122,344.3 C125.33,343.69 128.67,342.2 132,340.5" fill="none" stroke="#2d479c" stroke-width="4.5" stroke-linecap="round" stroke-linejoin="round" />
<path d="M336.49,341.79 L337.74,342.54 L339.02,343.25 L340.32,343.9 L341.65,344.49 L343,345.04 L344.37,345.53 L345.76,345.97 L347.17,346.36 L348.61,346.7 L350.06,347 L351.52,347.26 L353,347.48 L354.5,347.66 L356,347.81 L357.52,347.93 L359.05,348.02 L360.58,348.08 L362.12,348.12 L363.67,348.13 L365.22,348.12 L366.78,348.1 L368.33,348.06 L369.89,348.01 L371.44,347.95 L373,347.88 L374.55,347.8 L376.09,347.72 L377.63,347.64 L379.16,347.56 L380.69,347.47 L382.21,347.39 L383.73,347.3 L385.24,347.21 L386.75,347.12 L388.25,347.03 L389.75,346.95 L391.25,346.86 L392.75,346.77 L394.24,346.68 L395.73,346.59 L397.21,346.5 L398.7,346.41 L400.18,346.32 L401.66,346.23 L403.14,346.15 L404.62,346.06 L406.1,345.98 L407.58,345.9 L409.06,345.82 L410.53,345.74 L412.01,345.67 L413.49,345.59 L414.97,345.52 L416.45,345.45 L417.93,345.39 L419.42,345.33 L420.9,345.27 L422.39,345.21 L423.88,345.16 L425.37,345.11 L426.87,345.06 L428.36,345.02 L429.86,344.98 L431.36,344.94 L432.86,344.91 L434.36,344.88 L435.86,344.85 L437.36,344.83 L438.87,344.8 L440.37,344.79 L441.88,344.77 L443.39,344.76 L444.9,344.75 L446.41,344.75 L447.92,344.75 L449.43,344.75" fill="none" stroke="#2d479c" stroke-width="5" stroke-linecap="round" stroke-linejoin="round" />
<path d="M112,364.5 C117.33,362.72 122.67,361.12 128,360.5 C133.8,359.83 139.6,359.2 145.4,359.2 C151.27,359.2 157.13,360.2 163,361 C169.33,361.87 175.67,363.31 182,365" fill="none" stroke="#2d479c" stroke-width="5" stroke-linecap="round" stroke-linejoin="round" />
<path d="M282,365.5 C288,363.79 294,362.24 300,361 C306.67,359.62 313.33,358.09 320,357.5 C325.47,357.01 330.93,356.5 336.4,356.5 C340.93,356.5 345.47,357.42 350,358.5 C354,359.45 358,362.35 362,365.5" fill="none" stroke="#2d479c" stroke-width="7" stroke-linecap="round" stroke-linejoin="round" />
<path d="M386,365 C389.67,363.41 393.33,361.5 397,361.5 C404.67,361.5 412.33,362 420,362.3 C428.67,362.64 437.33,363.05 446,363.5" fill="none" stroke="#2d479c" stroke-width="4" stroke-linecap="round" stroke-linejoin="round" />
</g>
<path d="M175.5,13.81 L176.5,14.85 L177.5,15.89 L178.5,16.93 L179.5,17.97 L180.5,19 L181.5,20.04 L182.5,21.08 L183.5,22.12 L184.5,23.15 L185.5,24.19 L186.5,25.22 L187.5,26.26 L188.5,27.29 L189.5,28.32 L190.5,29.36 L191.5,30.39 L192.5,31.42 L193.5,32.45 L194.5,33.48 L195.5,34.5 L196.5,35.53 L197.5,36.56 L198.5,37.58 L199.5,38.6 L200.5,39.62 L201.5,40.64 L202.5,41.66 L203.5,42.67 L204.5,43.69 L205.5,44.7 L206.5,45.7 L207.5,46.71 L208.5,47.71 L209.5,48.71 L210.5,49.7 L211.5,50.69 L212.5,51.67 L213.5,52.64 L214.5,53.61 L215.5,54.58 L216.5,55.53 L217.5,56.47 L218.5,57.4 L219.5,58.32 L220.5,59.22 L221.5,60.1 L222.5,60.96 L223.5,61.79 L224.5,62.59 L225.5,63.35 L226.5,64.06 L227.5,64.72 L228.5,65.31 L229.5,65.82 L230.5,66.24 L231.5,66.54 L232.5,66.74 L233.5,66.8 L234.5,66.73 L235.5,66.51 L236.5,66.16 L237.5,65.69 L238.5,65.12 L239.5,64.46 L240.5,63.74 L241.5,62.95 L242.5,62.11 L243.5,61.24 L244.5,60.33 L245.5,59.4 L246.5,58.44 L247.5,57.46 L248.5,56.47 L249.5,55.47 L250.5,54.45 L251.5,53.42 L252.5,52.39 L253.5,51.34 L254.5,50.29 L255.5,49.24 L256.5,48.17 L257.5,47.11 L258.5,46.04 L259.5,44.96 L260.5,43.89 L261.5,42.81 L262.5,41.73 L263.5,40.64 L264.5,39.55 L265.5,38.47 L266.5,37.38 L267.5,36.28 L268.5,35.19 L269.5,34.09 L270.5,33 L271.5,31.9 L272.5,30.8 L273.5,29.7 L274.5,28.6 L275.5,27.5 L276.5,26.4 L277.5,25.29 L278.5,24.19 L279.5,23.08 L280.5,21.98 L281.5,20.87 L282.5,19.77 L283.5,18.66 L284.5,17.55 L285.5,16.44 L286.5,15.33 L287.5,14.23" fill="none" stroke="#e36c12" stroke-width="2.5" stroke-linecap="round" stroke-linejoin="round" />
<path d="M225.5,63.35 L226.5,64.06 L227.5,64.72 L228.5,65.31 L229.5,65.82 L230.5,66.24 L231.5,66.54 L232.5,66.74 L233.5,66.8 L234.5,66.73 L235.5,66.51 L236.5,66.16 L237.5,65.69 L238.5,65.12 L239.5,64.46 L240.5,63.74 L241.5,62.95" fill="none" stroke="#e36c12" stroke-width="4.2" stroke-linecap="round" stroke-linejoin="round" />
<clipPath id="cb"><rect x="617.1" y="16" width="331.4" height="348"/></clipPath>
<line x1="617.5" y1="159.2" x2="949" y2="159.2" stroke="#858585" stroke-width="3" stroke-dasharray="8.6 12.3" stroke-dashoffset="0"/>
<line x1="738.4" y1="17.8" x2="738.4" y2="364" stroke="#858585" stroke-width="3" stroke-dasharray="9.2 11.8" stroke-dashoffset="0"/>
<line x1="878.5" y1="17.8" x2="878.5" y2="364" stroke="#858585" stroke-width="3" stroke-dasharray="9.2 11.8" stroke-dashoffset="0"/>
<rect x="617.1" y="16" width="331.4" height="348" fill="none" stroke="#000" stroke-width="2.3"/>
<line x1="617.1" y1="34.5" x2="625.5" y2="34.5" stroke="#000" stroke-width="2.1"/>
<line x1="617.1" y1="96.7" x2="625.5" y2="96.7" stroke="#000" stroke-width="2.1"/>
<line x1="617.1" y1="158.9" x2="625.5" y2="158.9" stroke="#000" stroke-width="2.1"/>
<line x1="617.1" y1="221.1" x2="625.5" y2="221.1" stroke="#000" stroke-width="2.1"/>
<line x1="617.1" y1="283.3" x2="625.5" y2="283.3" stroke="#000" stroke-width="2.1"/>
<line x1="617.1" y1="345.5" x2="625.5" y2="345.5" stroke="#000" stroke-width="2.1"/>
<line x1="617.1" y1="65.6" x2="621.1" y2="65.6" stroke="#000" stroke-width="2.1"/>
<line x1="617.1" y1="127.8" x2="621.1" y2="127.8" stroke="#000" stroke-width="2.1"/>
<line x1="617.1" y1="190" x2="621.1" y2="190" stroke="#000" stroke-width="2.1"/>
<line x1="617.1" y1="252.2" x2="621.1" y2="252.2" stroke="#000" stroke-width="2.1"/>
<line x1="617.1" y1="314.4" x2="621.1" y2="314.4" stroke="#000" stroke-width="2.1"/>
<rect x="616" y="63.5" width="330.6" height="96.5" fill="rgba(155,186,226,0.45)"/>
<g clip-path="url(#cb)">
<path d="M584.6,269.62 L585.68,270.28 L586.78,271.03 L587.87,271.86 L588.98,272.77 L590.1,273.75 L591.22,274.77 L592.35,275.85 L593.5,276.95 L594.66,278.07 L595.83,279.21 L597.01,280.34 L598.21,281.47 L599.43,282.57 L600.67,283.64 L601.92,284.66 L603.19,285.63 L604.48,286.54 L605.79,287.37 L607.13,288.11 L608.48,288.76 L609.87,289.29 L611.27,289.72 L612.7,290.04 L614.14,290.26 L615.59,290.38 L617.06,290.42 L618.53,290.37 L620,290.24 L621.48,290.04 L622.95,289.77 L624.42,289.44 L625.88,289.05 L627.33,288.61 L628.76,288.13 L630.17,287.61 L631.57,287.04 L632.94,286.45 L634.29,285.82 L635.62,285.16 L636.93,284.47 L638.22,283.75 L639.49,283 L640.74,282.22 L641.98,281.41 L643.19,280.57 L644.38,279.7 L645.56,278.81 L646.72,277.89 L647.86,276.95 L648.99,275.98 L650.1,275 L651.19,273.98 L652.26,272.95 L653.32,271.9 L654.37,270.82 L655.4,269.73 L656.41,268.61 L657.41,267.48 L658.4,266.34 L659.37,265.17 L660.33,263.99 L661.28,262.8 L662.21,261.59 L663.13,260.37 L664.04,259.13 L664.94,257.89 L665.82,256.63 L666.7,255.36 L667.56,254.08 L668.42,252.8 L669.26,251.5 L670.09,250.2 L670.92,248.89 L671.73,247.58 L672.54,246.26 L673.33,244.94 L674.12,243.61 L674.9,242.28 L675.68,240.95 L676.44,239.62 L677.2,238.29 L677.95,236.96 L678.7,235.63 L679.44,234.3 L680.18,232.97 L680.91,231.65 L681.63,230.33 L682.35,229.02 L683.07,227.71 L683.78,226.41 L684.49,225.11 L685.2,223.82 L685.9,222.53 L686.61,221.24 L687.31,219.96 L688.02,218.68 L688.72,217.41 L689.43,216.13 L690.14,214.87 L690.85,213.6 L691.57,212.34 L692.29,211.08 L693.02,209.83 L693.75,208.57 L694.48,207.32 L695.22,206.07 L695.97,204.82 L696.73,203.58 L697.5,202.33 L698.27,201.09 L699.06,199.85 L699.85,198.61 L700.66,197.37 L701.47,196.13 L702.3,194.89 L703.15,193.65 L704,192.42 L704.87,191.18 L705.75,189.94 L706.65,188.7 L707.57,187.46 L708.5,186.22 L709.45,184.98 L710.41,183.74 L711.4,182.5 L712.4,181.26 L713.43,180.01 L714.47,178.76 L715.53,177.52 L716.61,176.28 L717.72,175.06 L718.83,173.85 L719.97,172.67 L721.12,171.51 L722.29,170.39 L723.47,169.31 L724.66,168.28 L725.87,167.3 L727.09,166.37 L728.32,165.51 L729.56,164.71 L730.81,163.99 L732.07,163.34 L733.34,162.78 L734.61,162.31 L735.9,161.93 L737.18,161.66 L738.48,161.49 L739.77,161.43 L741.07,161.49 L742.37,161.66 L743.68,161.95 L744.98,162.34 L746.28,162.84 L747.57,163.43 L748.86,164.1 L750.14,164.86 L751.42,165.69 L752.68,166.59 L753.93,167.55 L755.16,168.57 L756.38,169.64 L757.58,170.75 L758.76,171.89 L759.92,173.07 L761.06,174.27 L762.18,175.49 L763.26,176.72 L764.32,177.96 L765.36,179.19 L766.36,180.43 L767.34,181.67 L768.3,182.91 L769.23,184.15 L770.14,185.39 L771.03,186.64 L771.89,187.88 L772.74,189.13 L773.58,190.37 L774.39,191.62 L775.19,192.87 L775.98,194.11 L776.76,195.36 L777.52,196.61 L778.27,197.86 L779.02,199.11 L779.75,200.36 L780.48,201.61 L781.21,202.87 L781.93,204.12 L782.64,205.37 L783.36,206.62 L784.07,207.88 L784.79,209.13 L785.5,210.38 L786.22,211.64 L786.94,212.89 L787.67,214.15 L788.41,215.4 L789.15,216.66 L789.9,217.91 L790.65,219.18 L791.41,220.45 L792.17,221.73 L792.94,223.02 L793.7,224.33 L794.47,225.65 L795.24,227 L796,228.36 L796.77,229.75 L797.53,231.16 L798.29,232.6 L799.04,234.07 L799.79,235.57 L800.53,237.11 L801.27,238.68 L802,240.28 L802.74,241.88 L803.48,243.46 L804.24,245.01 L805.01,246.51 L805.81,247.94 L806.63,249.28 L807.49,250.51 L808.39,251.62 L809.33,252.58 L810.33,253.38 L811.37,253.99 L812.48,254.41 L813.66,254.6 L814.89,254.58 L816.19,254.35 L817.52,253.96 L818.89,253.42 L820.27,252.76 L821.67,252.01 L823.06,251.19 L824.44,250.32 L825.79,249.44 L827.11,248.56 L828.4,247.68 L829.67,246.8 L830.92,245.93 L832.15,245.05 L833.37,244.17 L834.57,243.3 L835.77,242.42 L836.97,241.55 L838.17,240.68 L839.38,239.8 L840.59,238.93 L841.81,238.06 L843.05,237.19 L844.31,236.32 L845.59,235.45 L846.88,234.6 L848.18,233.75 L849.5,232.92 L850.84,232.11 L852.19,231.32 L853.55,230.55 L854.92,229.81 L856.31,229.1 L857.7,228.43 L859.11,227.79 L860.52,227.2 L861.94,226.65 L863.37,226.15 L864.8,225.7 L866.25,225.3 L867.69,224.97 L869.14,224.69 L870.6,224.47 L872.06,224.31 L873.52,224.21 L874.99,224.15 L876.45,224.15 L877.92,224.19 L879.4,224.27 L880.87,224.39 L882.34,224.55 L883.82,224.74 L885.3,224.96 L886.77,225.21 L888.25,225.49 L889.72,225.79 L891.2,226.1 L892.67,226.44 L894.14,226.78 L895.61,227.14 L897.08,227.51 L898.55,227.88 L900.01,228.27 L901.48,228.66 L902.94,229.05 L904.4,229.46 L905.86,229.86 L907.32,230.27 L908.78,230.68 L910.24,231.1 L911.7,231.51 L913.16,231.92 L914.62,232.32 L916.08,232.73 L917.54,233.13 L919,233.52 L920.46,233.91 L921.92,234.29 L923.38,234.66 L924.85,235.03 L926.31,235.38 L927.78,235.72 L929.24,236.04 L930.71,236.36 L932.18,236.65 L933.65,236.93 L935.12,237.2 L936.6,237.45 L938.08,237.67 L939.56,237.88 L941.04,238.07 L942.52,238.23 L944.01,238.37 L945.5,238.49 L946.99,238.58 L948.49,238.64 L949.99,238.68 L951.49,238.69 L953,238.67 L954.51,238.62 L956.02,238.54 L957.53,238.44 L959.05,238.31 L960.56,238.16 L962.08,237.98 L963.59,237.79 L965.11,237.57 L966.62,237.33 L968.14,237.08 L969.65,236.81 L971.16,236.52 L972.66,236.22 L974.17,235.9 L975.67,235.57 L977.16,235.23 L978.65,234.88 L980.13,234.53 L981.61,234.16 L983.08,233.78 L984.55,233.4 L986.01,233.02 L987.46,232.63 L988.9,232.24 L990.33,231.85 L991.76,231.46 L993.17,231.07 L994.58,230.68 L995.97,230.29" fill="none" stroke="#000" stroke-width="2.2" stroke-linecap="round" stroke-linejoin="round" />
<path d="M584.35,261.04 L585.49,260.49 L586.64,259.86 L587.8,259.14 L588.98,258.35 L590.16,257.5 L591.35,256.58 L592.56,255.62 L593.77,254.62 L594.99,253.59 L596.22,252.53 L597.46,251.46 L598.7,250.39 L599.96,249.32 L601.22,248.26 L602.49,247.21 L603.77,246.2 L605.05,245.22 L606.34,244.29 L607.64,243.41 L608.94,242.6 L610.25,241.85 L611.57,241.19 L612.89,240.61 L614.21,240.13 L615.54,239.75 L616.88,239.49 L618.22,239.34 L619.56,239.33 L620.91,239.45 L622.25,239.7 L623.6,240.06 L624.95,240.52 L626.3,241.08 L627.65,241.72 L628.99,242.45 L630.32,243.23 L631.65,244.08 L632.97,244.97 L634.29,245.91 L635.59,246.87 L636.88,247.85 L638.16,248.84 L639.42,249.83 L640.67,250.81 L641.91,251.78 L643.12,252.71 L644.32,253.62 L645.51,254.5 L646.68,255.36 L647.84,256.21 L648.99,257.04 L650.14,257.87 L651.28,258.69 L652.41,259.51 L653.55,260.34 L654.69,261.18 L655.83,262.04 L656.97,262.91 L658.13,263.81 L659.29,264.74 L660.46,265.7 L661.65,266.7 L662.85,267.74 L664.07,268.82 L665.3,269.96 L666.56,271.15 L667.84,272.4 L669.14,273.67 L670.45,274.92 L671.76,276.1 L673.06,277.15 L674.35,278.04 L675.61,278.71 L676.84,279.11 L678.04,279.19 L679.18,278.92 L680.27,278.25 L681.3,277.27 L682.27,276.07 L683.16,274.75 L683.98,273.39 L684.73,272.01 L685.43,270.63 L686.08,269.23 L686.69,267.83 L687.28,266.43 L687.86,265.03 L688.43,263.64 L689,262.25 L689.58,260.87 L690.16,259.5 L690.75,258.13 L691.34,256.76 L691.94,255.4 L692.53,254.04 L693.12,252.67 L693.7,251.31 L694.29,249.94 L694.87,248.57 L695.44,247.19 L696.01,245.81 L696.57,244.42 L697.12,243.03 L697.68,241.63 L698.22,240.23 L698.77,238.83 L699.31,237.42 L699.84,236.01 L700.37,234.6 L700.9,233.19 L701.43,231.77 L701.96,230.35 L702.48,228.93 L703,227.51 L703.52,226.08 L704.04,224.66 L704.56,223.23 L705.08,221.81 L705.6,220.38 L706.12,218.95 L706.64,217.53 L707.16,216.1 L707.68,214.67 L708.2,213.25 L708.73,211.83 L709.25,210.4 L709.78,208.98 L710.31,207.56 L710.85,206.15 L711.39,204.73 L711.93,203.32 L712.48,201.92 L713.03,200.51 L713.59,199.11 L714.15,197.71 L714.71,196.32 L715.29,194.93 L715.86,193.54 L716.45,192.16 L717.04,190.79 L717.64,189.42 L718.24,188.05 L718.86,186.69 L719.48,185.34 L720.1,183.99 L720.74,182.65 L721.39,181.32 L722.04,179.99 L722.71,178.67 L723.38,177.36 L724.08,176.05 L724.79,174.75 L725.54,173.46 L726.33,172.17 L727.17,170.88 L728.07,169.6 L729.03,168.32 L730.07,167.04 L731.18,165.76 L732.37,164.51 L733.61,163.33 L734.89,162.27 L736.18,161.36 L737.46,160.65 L738.72,160.2 L739.93,160.03 L741.08,160.21 L742.15,160.72 L743.16,161.53 L744.1,162.58 L744.99,163.85 L745.84,165.26 L746.65,166.79 L747.43,168.38 L748.18,169.98 L748.92,171.55 L749.64,173.08 L750.35,174.57 L751.04,176.02 L751.73,177.43 L752.4,178.82 L753.06,180.18 L753.72,181.52 L754.36,182.85 L754.99,184.16 L755.61,185.47 L756.22,186.78 L756.83,188.09 L757.43,189.41 L758.02,190.74 L758.6,192.07 L759.18,193.41 L759.75,194.76 L760.31,196.12 L760.87,197.49 L761.43,198.86 L761.98,200.23 L762.52,201.61 L763.06,203 L763.6,204.4 L764.13,205.79 L764.66,207.2 L765.19,208.6 L765.71,210.01 L766.23,211.43 L766.75,212.84 L767.27,214.26 L767.79,215.69 L768.3,217.11 L768.82,218.54 L769.33,219.97 L769.85,221.4 L770.37,222.83 L770.88,224.26 L771.4,225.69 L771.92,227.12 L772.44,228.55 L772.96,229.98 L773.49,231.41 L774.02,232.84 L774.55,234.27 L775.08,235.69 L775.62,237.11 L776.16,238.53 L776.71,239.95 L777.26,241.36 L777.82,242.77 L778.38,244.18 L778.95,245.58 L779.53,246.97 L780.11,248.37 L780.7,249.75 L781.29,251.13 L781.89,252.51 L782.5,253.88 L783.12,255.24 L783.75,256.59 L784.38,257.94 L785.03,259.28 L785.68,260.61 L786.35,261.93 L787.02,263.25 L787.71,264.56 L788.4,265.85 L789.11,267.14 L789.82,268.43 L790.54,269.72 L791.26,271.02 L791.97,272.35 L792.68,273.7 L793.37,275.09 L794.05,276.52 L794.71,278 L795.35,279.54 L796.01,281.05 L796.73,282.45 L797.57,283.64 L798.57,284.51 L799.78,284.97 L801.21,285.03 L802.77,284.87 L804.39,284.64 L805.99,284.51 L807.51,284.65 L808.9,285.1 L810.2,285.79 L811.41,286.65 L812.57,287.61 L813.67,288.61 L814.73,289.66 L815.74,290.73 L816.72,291.85 L817.65,292.99 L818.55,294.16 L819.42,295.36 L820.25,296.59 L821.06,297.84 L821.84,299.11 L822.6,300.4 L823.33,301.71 L824.05,303.04 L824.74,304.38 L825.43,305.73 L826.1,307.1 L826.76,308.47 L827.41,309.85 L828.05,311.24 L828.7,312.63 L829.34,314.02 L829.98,315.41 L830.63,316.79 L831.28,318.18 L831.94,319.55 L832.61,320.92 L833.3,322.28 L834,323.63 L834.72,324.96 L835.46,326.28 L836.22,327.58 L837,328.86 L837.81,330.12 L838.65,331.36 L839.51,332.58 L840.4,333.78 L841.31,334.96 L842.24,336.13 L843.19,337.29 L844.15,338.43 L845.13,339.55 L846.13,340.67 L847.14,341.78 L848.16,342.88 L849.18,343.97 L850.22,345.06 L851.26,346.14 L852.3,347.22 L853.35,348.29 L854.4,349.37 L855.45,350.45 L856.5,351.53 L857.54,352.61 L858.58,353.7 L859.61,354.79 L860.64,355.89 L861.65,357 L862.65,358.11 L863.64,359.24 L864.61,360.38 L865.57,361.54 L866.51,362.71 L867.43,363.89 L868.33,365.09 L869.21,366.31 L870.06,367.55 L870.89,368.81 L871.69,370.1 L872.46,371.4" fill="none" stroke="#000" stroke-width="2.2" stroke-linecap="round" stroke-linejoin="round" />
<path d="M621.97,371.03 L623.02,369.97 L624.14,369 L625.32,368.09 L626.55,367.24 L627.83,366.43 L629.13,365.68 L630.47,364.95 L631.83,364.25 L633.19,363.56 L634.56,362.87 L635.92,362.19 L637.28,361.49 L638.61,360.77 L639.91,360.02 L641.17,359.23 L642.39,358.4 L643.57,357.52 L644.7,356.59 L645.79,355.61 L646.84,354.6 L647.85,353.54 L648.83,352.45 L649.77,351.32 L650.69,350.16 L651.57,348.97 L652.43,347.76 L653.27,346.51 L654.08,345.24 L654.88,343.95 L655.66,342.64 L656.42,341.32 L657.16,339.98 L657.9,338.62 L658.63,337.26 L659.35,335.89 L660.07,334.51 L660.78,333.13 L661.5,331.75 L662.21,330.37 L662.93,329 L663.66,327.63 L664.39,326.26 L665.14,324.91 L665.9,323.57 L666.67,322.24 L667.46,320.93 L668.27,319.64 L669.09,318.36 L669.94,317.1 L670.81,315.86 L671.69,314.63 L672.6,313.42 L673.54,312.23 L674.49,311.06 L675.48,309.9 L676.49,308.76 L677.52,307.64 L678.59,306.53 L679.68,305.45 L680.81,304.42 L681.96,303.49 L683.14,302.72 L684.35,302.16 L685.59,301.87 L686.86,301.85 L688.15,302.08 L689.45,302.53 L690.77,303.16 L692.09,303.94 L693.42,304.84 L694.75,305.81 L696.07,306.84 L697.38,307.87 L698.67,308.89 L699.95,309.89 L701.22,310.87 L702.49,311.83 L703.74,312.76 L704.99,313.66 L706.25,314.54 L707.5,315.39 L708.75,316.22 L710.01,317.01 L711.28,317.77 L712.56,318.5 L713.85,319.2 L715.16,319.87 L716.49,320.5 L717.83,321.09 L719.2,321.65 L720.59,322.17 L722.01,322.65 L723.46,323.08 L724.93,323.48 L726.43,323.84 L727.94,324.15 L729.47,324.41 L731.01,324.63 L732.55,324.79 L734.1,324.91 L735.65,324.97 L737.19,324.98 L738.72,324.93 L740.24,324.82 L741.74,324.66 L743.22,324.43 L744.69,324.16 L746.14,323.83 L747.57,323.44 L748.99,323.02 L750.39,322.54 L751.78,322.02 L753.16,321.46 L754.52,320.86 L755.87,320.23 L757.21,319.56 L758.54,318.86 L759.86,318.12 L761.17,317.37 L762.46,316.58 L763.75,315.78 L765.03,314.95 L766.31,314.11 L767.58,313.25 L768.84,312.38 L770.09,311.49 L771.34,310.6 L772.59,309.7 L773.83,308.8 L775.06,307.9 L776.3,307 L777.54,306.1 L778.78,305.21 L780.02,304.33 L781.28,303.47 L782.56,302.63 L783.86,301.81 L785.18,301.02 L786.53,300.27 L787.91,299.55 L789.33,298.88 L790.75,298.29 L792.16,297.82 L793.53,297.51 L794.85,297.4 L796.09,297.52 L797.24,297.88 L798.31,298.45 L799.31,299.21 L800.25,300.15 L801.14,301.23 L801.97,302.44 L802.77,303.75 L803.53,305.15 L804.27,306.6 L804.99,308.1 L805.7,309.6 L806.41,311.1 L807.12,312.58 L807.84,314.03 L808.56,315.45 L809.28,316.85 L810.02,318.22 L810.76,319.58 L811.5,320.91 L812.26,322.23 L813.02,323.52 L813.79,324.81 L814.56,326.07 L815.35,327.33 L816.14,328.57 L816.95,329.8 L817.76,331.02 L818.59,332.24 L819.42,333.44 L820.27,334.65 L821.12,335.85 L821.99,337.04 L822.87,338.24 L823.77,339.43 L824.67,340.63 L825.59,341.83 L826.52,343.02 L827.47,344.22 L828.44,345.41 L829.42,346.59 L830.41,347.76 L831.43,348.91 L832.47,350.04 L833.52,351.15 L834.6,352.23 L835.7,353.28 L836.83,354.3 L837.97,355.29 L839.14,356.23 L840.34,357.13 L841.57,357.99 L842.82,358.79 L844.1,359.55 L845.41,360.25 L846.75,360.9 L848.11,361.5 L849.5,362.05 L850.9,362.57 L852.33,363.04 L853.77,363.48 L855.23,363.89 L856.7,364.26 L858.18,364.61 L859.68,364.94 L861.18,365.25 L862.69,365.54 L864.2,365.82 L865.71,366.08 L867.23,366.34 L868.74,366.59 L870.25,366.84 L871.75,367.09 L873.25,367.35 L874.74,367.61 L876.22,367.88 L877.68,368.17 L879.13,368.47 L880.56,368.8 L881.98,369.14" fill="none" stroke="#000" stroke-width="2.2" stroke-linecap="round" stroke-linejoin="round" />
<path d="M881.72,370.39 L882.91,369.51 L884.07,368.6 L885.2,367.67 L886.3,366.7 L887.38,365.7 L888.44,364.67 L889.48,363.62 L890.49,362.54 L891.48,361.43 L892.46,360.3 L893.41,359.15 L894.35,357.98 L895.27,356.79 L896.17,355.57 L897.06,354.34 L897.93,353.1 L898.79,351.84 L899.64,350.56 L900.48,349.27 L901.31,347.96 L902.12,346.65 L902.93,345.32 L903.73,343.99 L904.53,342.65 L905.32,341.3 L906.1,339.94 L906.88,338.58 L907.66,337.22 L908.44,335.85 L909.21,334.49 L909.99,333.12 L910.77,331.75 L911.54,330.39 L912.33,329.03 L913.11,327.67 L913.9,326.32 L914.7,324.97 L915.5,323.63 L916.31,322.3 L917.12,320.98 L917.95,319.67 L918.79,318.38 L919.64,317.09 L920.5,315.82 L921.38,314.57 L922.26,313.33 L923.17,312.11 L924.09,310.91 L925.02,309.73 L925.98,308.56 L926.95,307.43 L927.95,306.31 L928.96,305.22 L930,304.15 L931.06,303.11 L932.14,302.1 L933.24,301.11 L934.38,300.16 L935.54,299.24 L936.72,298.34 L937.94,297.49 L939.18,296.66 L940.45,295.88 L941.74,295.16 L943.05,294.49 L944.38,293.89 L945.73,293.36 L947.08,292.92 L948.45,292.58 L949.82,292.33 L951.2,292.2 L952.57,292.18 L953.94,292.27 L955.31,292.48 L956.66,292.79 L958,293.21 L959.31,293.73 L960.61,294.34 L961.88,295.06 L963.11,295.87 L964.32,296.78 L965.49,297.77 L966.63,298.83 L967.74,299.97 L968.82,301.18 L969.87,302.44 L970.9,303.75 L971.9,305.11 L972.88,306.5 L973.84,307.93 L974.78,309.37 L975.7,310.84 L976.6,312.32 L977.48,313.8 L978.35,315.28 L979.2,316.74 L980.04,318.19 L980.87,319.62 L981.69,321.02 L982.51,322.38 L983.31,323.69 L984.11,324.96 L984.9,326.17 L985.69,327.31 L986.48,328.38 L987.27,329.38 L988.06,330.28 L988.85,331.1" fill="none" stroke="#000" stroke-width="2.2" stroke-linecap="round" stroke-linejoin="round" />
<path d="M600.59,281.53 L601.88,282.44 L603.19,283.27 L604.53,284.01 L605.88,284.66 L607.27,285.19 L608.67,285.62 L610.1,285.94 L611.54,286.16 L612.99,286.28 L614.46,286.32 L615.93,286.27 L617.4,286.14 L618.88,285.94 L620.35,285.67 L621.82,285.34 L623.28,284.95 L624.73,284.51 L626.16,284.03 L627.57,283.51 L628.97,282.94 L630.34,282.35 L631.69,281.72 L633.02,281.06 L634.33,280.37 L635.62,279.65 L636.89,278.9 L638.14,278.12 L639.38,277.31 L640.59,276.47 L641.78,275.6 L642.96,274.71 L644.12,273.79 L645.26,272.85 L646.39,271.88 L647.5,270.9 L648.59,269.88 L649.66,268.85 L650.72,267.8 L651.77,266.72 L652.8,265.63 L653.81,264.51 L654.81,263.38 L655.8,262.24 L656.77,261.07 L657.73,259.89 L658.68,258.7 L659.61,257.49 L660.53,256.27 L661.44,255.03 L662.34,253.79 L663.22,252.53 L664.1,251.26 L664.96,249.98 L665.82,248.7 L666.66,247.4 L667.49,246.1 L668.32,244.79 L669.13,243.48 L669.94,242.16 L670.73,240.84 L671.52,239.51 L672.3,238.18 L673.08,236.85 L673.84,235.52 L674.6,234.19 L675.35,232.86 L676.1,231.53 L676.84,230.2 L677.58,228.87 L678.31,227.55 L679.03,226.23 L679.75,224.92 L680.47,223.61 L681.18,222.31 L681.89,221.01 L682.6,219.72 L683.3,218.43 L684.01,217.14 L684.71,215.86 L685.42,214.58 L686.12,213.31 L686.83,212.03 L687.54,210.77 L688.25,209.5 L688.97,208.24 L689.69,206.98 L690.42,205.73 L691.15,204.47 L691.88,203.22 L692.62,201.97 L693.37,200.72 L694.13,199.48 L694.9,198.23 L695.67,196.99 L696.46,195.75 L697.25,194.51 L698.06,193.27 L698.87,192.03 L699.7,190.79 L700.55,189.55 L701.4,188.32 L702.27,187.08 L703.15,185.84 L704.05,184.6 L704.97,183.36 L705.9,182.12 L706.85,180.88 L707.81,179.64 L708.8,178.4 L709.8,177.16 L710.83,175.91 L711.87,174.66 L712.93,173.42 L714.01,172.18 L715.12,170.96 L716.23,169.75 L717.37,168.57 L718.52,167.41 L719.69,166.29 L720.87,165.21 L722.06,164.18 L723.27,163.2 L724.49,162.27 L725.72,161.41 L726.96,160.61 L728.21,159.89 L729.47,159.24 L730.74,158.68 L732.01,158.21 L733.3,157.83 L734.58,157.56 L735.88,157.39 L737.17,157.33 L738.47,157.39 L739.77,157.56 L741.08,157.85 L742.38,158.24 L743.68,158.74 L744.97,159.33 L746.26,160 L747.54,160.76 L748.82,161.59 L750.08,162.49 L751.33,163.45 L752.56,164.47 L753.78,165.54 L754.98,166.65 L756.16,167.79 L757.32,168.97 L758.46,170.17 L759.58,171.39 L760.66,172.62 L761.72,173.86 L762.76,175.09 L763.76,176.33 L764.74,177.57 L765.7,178.81 L766.63,180.05 L767.54,181.29 L768.43,182.54 L769.29,183.78 L770.14,185.03 L770.98,186.27 L771.79,187.52 L772.59,188.77 L773.38,190.01 L774.16,191.26 L774.92,192.51 L775.67,193.76 L776.42,195.01 L777.15,196.26 L777.88,197.51 L778.61,198.77 L779.33,200.02 L780.04,201.27 L780.76,202.52 L781.47,203.78 L782.19,205.03 L782.9,206.28 L783.62,207.54 L784.34,208.79 L785.07,210.05 L785.81,211.3 L786.55,212.56 L787.3,213.81 L788.05,215.08 L788.81,216.35 L789.57,217.63 L790.34,218.92 L791.1,220.23 L791.87,221.55 L792.64,222.9 L793.4,224.26 L794.17,225.65 L794.93,227.06 L795.69,228.5 L796.44,229.97 L797.19,231.47 L797.93,233.01 L798.67,234.58 L799.4,236.18 L800.14,237.78 L800.88,239.36 L801.64,240.91 L802.41,242.41 L803.21,243.84 L804.03,245.18 L804.89,246.41 L805.79,247.52 L806.73,248.48 L807.73,249.28 L808.77,249.89 L809.88,250.31 L811.06,250.5" fill="none" stroke="#17a244" stroke-width="8" stroke-linecap="round" stroke-linejoin="round" />
<path d="M811.06,250.5 L812.29,250.48 L813.59,250.25 L814.92,249.86 L816.29,249.32 L817.67,248.66 L819.07,247.91 L820.46,247.09 L821.84,246.22 L823.19,245.34 L824.51,244.46 L825.8,243.58 L827.07,242.7 L828.32,241.83 L829.55,240.95 L830.77,240.07 L831.97,239.2 L833.17,238.32 L834.37,237.45 L835.57,236.58 L836.78,235.7 L837.99,234.83 L839.21,233.96 L840.45,233.09 L841.71,232.22 L842.99,231.35 L844.28,230.5 L845.58,229.65 L846.9,228.82 L848.24,228.01 L849.59,227.22 L850.95,226.45 L852.32,225.71 L853.71,225 L855.1,224.33 L856.51,223.69 L857.92,223.1 L859.34,222.55 L860.77,222.05 L862.2,221.6 L863.65,221.2 L865.09,220.87 L866.54,220.59 L868,220.37 L869.46,220.21 L870.92,220.11 L872.39,220.05 L873.85,220.05 L875.32,220.09 L876.8,220.17 L878.27,220.29 L879.74,220.45 L881.22,220.64 L882.7,220.86 L884.17,221.11 L885.65,221.39 L887.12,221.69 L888.6,222 L890.07,222.34 L891.54,222.68 L893.01,223.04 L894.48,223.41 L895.95,223.78 L897.41,224.17 L898.88,224.56 L900.34,224.95 L901.8,225.36 L903.26,225.76 L904.72,226.17 L906.18,226.58 L907.64,227 L909.1,227.41 L910.56,227.82 L912.02,228.22 L913.48,228.63 L914.94,229.03 L916.4,229.42 L917.86,229.81 L919.32,230.19 L920.78,230.56 L922.25,230.93 L923.71,231.28 L925.18,231.62 L926.64,231.94 L928.11,232.26 L929.58,232.55 L931.05,232.83 L932.52,233.1 L934,233.35 L935.48,233.57 L936.96,233.78 L938.44,233.97 L939.92,234.13 L941.41,234.27 L942.9,234.39 L944.39,234.48 L945.89,234.54 L947.39,234.58 L948.89,234.59 L950.4,234.57 L951.91,234.52 L953.42,234.44 L954.93,234.34 L956.45,234.21 L957.96,234.06 L959.48,233.88 L960.99,233.69 L962.51,233.47 L964.02,233.23 L965.54,232.98 L967.05,232.71 L968.56,232.42" fill="none" stroke="#2d479c" stroke-width="6.5" stroke-linecap="round" stroke-linejoin="round" />
<path d="M676.88,275.42 L677.97,274.75 L679,273.77 L679.97,272.57 L680.86,271.25 L681.68,269.89 L682.43,268.51 L683.13,267.13 L683.78,265.73 L684.39,264.33 L684.98,262.93 L685.56,261.53 L686.13,260.14 L686.7,258.75 L687.28,257.37 L687.86,256 L688.45,254.63 L689.04,253.26 L689.64,251.9 L690.23,250.54 L690.82,249.17 L691.4,247.81 L691.99,246.44 L692.57,245.07 L693.14,243.69 L693.71,242.31 L694.27,240.92 L694.82,239.53 L695.38,238.13 L695.92,236.73 L696.47,235.33 L697.01,233.92 L697.54,232.51 L698.07,231.1 L698.6,229.69 L699.13,228.27 L699.66,226.85 L700.18,225.43 L700.7,224.01 L701.22,222.58 L701.74,221.16 L702.26,219.73 L702.78,218.31 L703.3,216.88 L703.82,215.45 L704.34,214.03 L704.86,212.6 L705.38,211.17 L705.9,209.75 L706.43,208.33 L706.95,206.9 L707.48,205.48 L708.01,204.06 L708.55,202.65 L709.09,201.23 L709.63,199.82 L710.18,198.42 L710.73,197.01 L711.29,195.61 L711.85,194.21 L712.41,192.82 L712.99,191.43 L713.56,190.04 L714.15,188.66 L714.74,187.29 L715.34,185.92 L715.94,184.55 L716.56,183.19 L717.18,181.84 L717.8,180.49 L718.44,179.15 L719.09,177.82 L719.74,176.49 L720.41,175.17 L721.08,173.86 L721.78,172.55 L722.49,171.25 L723.24,169.96 L724.03,168.67 L724.87,167.38 L725.77,166.1 L726.73,164.82 L727.77,163.54 L728.88,162.26 L730.07,161.01 L731.31,159.83 L732.59,158.77 L733.88,157.86 L735.16,157.15 L736.42,156.7 L737.63,156.53 L738.78,156.71 L739.85,157.22 L740.86,158.03 L741.8,159.08 L742.69,160.35 L743.54,161.76 L744.35,163.29 L745.13,164.88 L745.88,166.48 L746.62,168.05 L747.34,169.58 L748.05,171.07 L748.74,172.52 L749.43,173.93 L750.1,175.32 L750.76,176.68 L751.42,178.02 L752.06,179.35 L752.69,180.66 L753.31,181.97 L753.92,183.28 L754.53,184.59 L755.13,185.91 L755.72,187.24 L756.3,188.57 L756.88,189.91 L757.45,191.26 L758.01,192.62 L758.57,193.99 L759.13,195.36 L759.68,196.73 L760.22,198.11 L760.76,199.5 L761.3,200.9 L761.83,202.29 L762.36,203.7 L762.89,205.1 L763.41,206.51 L763.93,207.93 L764.45,209.34 L764.97,210.76 L765.49,212.19 L766,213.61 L766.52,215.04 L767.03,216.47 L767.55,217.9 L768.07,219.33 L768.58,220.76 L769.1,222.19 L769.62,223.62 L770.14,225.05 L770.66,226.48 L771.19,227.91 L771.72,229.34 L772.25,230.77 L772.78,232.19 L773.32,233.61 L773.86,235.03 L774.41,236.45 L774.96,237.86 L775.52,239.27 L776.08,240.68 L776.65,242.08 L777.23,243.47 L777.81,244.87 L778.4,246.25 L778.99,247.63 L779.59,249.01 L780.2,250.38 L780.82,251.74 L781.45,253.09 L782.08,254.44 L782.73,255.78 L783.38,257.11 L784.05,258.43 L784.72,259.75 L785.41,261.06 L786.1,262.35 L786.81,263.64 L787.52,264.93 L788.24,266.22 L788.96,267.52 L789.67,268.85 L790.38,270.2 L791.07,271.59 L791.75,273.02 L792.41,274.5 L793.05,276.04 L793.71,277.55 L794.43,278.95" fill="none" stroke="#17a244" stroke-width="6.5" stroke-linecap="round" stroke-linejoin="round" />
<path d="M810.27,284.11 L811.37,285.11 L812.43,286.16 L813.44,287.23 L814.42,288.35 L815.35,289.49 L816.25,290.66 L817.12,291.86 L817.95,293.09 L818.76,294.34 L819.54,295.61 L820.3,296.9 L821.03,298.21 L821.75,299.54 L822.44,300.88 L823.13,302.23 L823.8,303.6 L824.46,304.97 L825.11,306.35 L825.75,307.74 L826.4,309.13 L827.04,310.52 L827.68,311.91 L828.33,313.29 L828.98,314.68 L829.64,316.05 L830.31,317.42 L831,318.78 L831.7,320.13 L832.42,321.46 L833.16,322.78 L833.92,324.08 L834.7,325.36 L835.51,326.62 L836.35,327.86 L837.21,329.08 L838.1,330.28 L839.01,331.46 L839.94,332.63 L840.89,333.79 L841.85,334.93 L842.83,336.05 L843.83,337.17 L844.84,338.28 L845.86,339.38 L846.88,340.47 L847.92,341.56 L848.96,342.64 L850,343.72 L851.05,344.79 L852.1,345.87 L853.15,346.95 L854.2,348.03 L855.24,349.11 L856.28,350.2 L857.31,351.29 L858.34,352.39 L859.35,353.5 L860.35,354.61 L861.34,355.74 L862.31,356.88 L863.27,358.04 L864.21,359.21 L865.13,360.39 L866.03,361.59 L866.91,362.81 L867.76,364.05 L868.59,365.31 L869.39,366.6 L870.16,367.9" fill="none" stroke="#17a244" stroke-width="5" stroke-linecap="round" stroke-linejoin="round" />
<path d="M600.19,243.71 L601.47,242.7 L602.75,241.72 L604.04,240.79 L605.34,239.91 L606.64,239.1 L607.95,238.35 L609.27,237.69 L610.59,237.11 L611.91,236.63 L613.24,236.25 L614.58,235.99 L615.92,235.84 L617.26,235.83 L618.61,235.95 L619.95,236.2 L621.3,236.56 L622.65,237.02 L624,237.58 L625.35,238.22 L626.69,238.95 L628.02,239.73 L629.35,240.58 L630.67,241.47 L631.99,242.41 L633.29,243.37 L634.58,244.35 L635.86,245.34 L637.12,246.33 L638.37,247.31 L639.61,248.28 L640.82,249.21 L642.02,250.12 L643.21,251 L644.38,251.86 L645.54,252.71 L646.69,253.54 L647.84,254.37 L648.98,255.19 L650.11,256.01 L651.25,256.84 L652.39,257.68 L653.53,258.54 L654.67,259.41 L655.83,260.31 L656.99,261.24 L658.16,262.2 L659.35,263.2 L660.55,264.24 L661.77,265.32 L663,266.46 L664.26,267.65 L665.54,268.9 L666.84,270.17 L668.15,271.42 L669.46,272.6 L670.76,273.65 L672.05,274.54 L673.31,275.21 L674.54,275.61 L675.74,275.69 L676.88,275.42 L677.97,274.75" fill="none" stroke="#2d479c" stroke-width="7" stroke-linecap="round" stroke-linejoin="round" />
<path d="M793.05,276.04 L793.71,277.55 L794.43,278.95 L795.27,280.14 L796.27,281.01 L797.48,281.47 L798.91,281.53 L800.47,281.37 L802.09,281.14 L803.69,281.01 L805.21,281.15 L806.6,281.6 L807.9,282.29 L809.11,283.15 L810.27,284.11 L811.37,285.11" fill="none" stroke="#2d479c" stroke-width="5.5" stroke-linecap="round" stroke-linejoin="round" />
<path d="M619.97,367.93 L621.02,366.87 L622.14,365.9 L623.32,364.99 L624.55,364.14 L625.83,363.33 L627.13,362.58 L628.47,361.85 L629.83,361.15 L631.19,360.46 L632.56,359.77 L633.92,359.09 L635.28,358.39 L636.61,357.67 L637.91,356.92 L639.17,356.13 L640.39,355.3 L641.57,354.42 L642.7,353.49 L643.79,352.51 L644.84,351.5 L645.85,350.44 L646.83,349.35 L647.77,348.22 L648.69,347.06 L649.57,345.87 L650.43,344.66 L651.27,343.41 L652.08,342.14 L652.88,340.85 L653.66,339.54 L654.42,338.22 L655.16,336.88 L655.9,335.52 L656.63,334.16 L657.35,332.79 L658.07,331.41 L658.78,330.03 L659.5,328.65 L660.21,327.27 L660.93,325.9 L661.66,324.53 L662.39,323.16 L663.14,321.81 L663.9,320.47 L664.67,319.14 L665.46,317.83 L666.27,316.54 L667.09,315.26 L667.94,314 L668.81,312.76 L669.69,311.53 L670.6,310.32 L671.54,309.13 L672.49,307.96 L673.48,306.8 L674.49,305.66 L675.52,304.54 L676.59,303.43 L677.68,302.35 L678.81,301.32 L679.96,300.39 L681.14,299.62 L682.35,299.06 L683.59,298.77" fill="none" stroke="#17a244" stroke-width="5.5" stroke-linecap="round" stroke-linejoin="round" />
<path d="M792.85,294.3 L794.09,294.42 L795.24,294.78 L796.31,295.35 L797.31,296.11 L798.25,297.05 L799.14,298.13 L799.97,299.34 L800.77,300.65 L801.53,302.05 L802.27,303.5 L802.99,305 L803.7,306.5 L804.41,308 L805.12,309.48 L805.84,310.93 L806.56,312.35 L807.28,313.75 L808.02,315.12 L808.76,316.48 L809.5,317.81 L810.26,319.13 L811.02,320.42 L811.79,321.71 L812.56,322.97 L813.35,324.23 L814.14,325.47 L814.95,326.7 L815.76,327.92 L816.59,329.14 L817.42,330.34 L818.27,331.55 L819.12,332.75 L819.99,333.94 L820.87,335.14 L821.77,336.33 L822.67,337.53 L823.59,338.73 L824.52,339.92 L825.47,341.12 L826.44,342.31 L827.42,343.49 L828.41,344.66 L829.43,345.81 L830.47,346.94 L831.52,348.05 L832.6,349.13 L833.7,350.18 L834.83,351.2 L835.97,352.19 L837.14,353.13 L838.34,354.03 L839.57,354.89 L840.82,355.69 L842.1,356.45 L843.41,357.15 L844.75,357.8 L846.11,358.4 L847.5,358.95 L848.9,359.47 L850.33,359.94 L851.77,360.38 L853.23,360.79 L854.7,361.16 L856.18,361.51 L857.68,361.84 L859.18,362.15 L860.69,362.44 L862.2,362.72 L863.71,362.98 L865.23,363.24 L866.74,363.49 L868.25,363.74 L869.75,363.99 L871.25,364.25 L872.74,364.51 L874.22,364.78 L875.68,365.07 L877.13,365.37 L878.56,365.7 L879.98,366.04" fill="none" stroke="#17a244" stroke-width="5" stroke-linecap="round" stroke-linejoin="round" />
<path d="M682.35,299.06 L683.59,298.77 L684.86,298.75 L686.15,298.98 L687.45,299.43 L688.77,300.06 L690.09,300.84 L691.42,301.74 L692.75,302.71 L694.07,303.74 L695.38,304.77 L696.67,305.79 L697.95,306.79 L699.22,307.77 L700.49,308.73 L701.74,309.66 L702.99,310.56 L704.25,311.44 L705.5,312.29 L706.75,313.12 L708.01,313.91 L709.28,314.67 L710.56,315.4 L711.85,316.1 L713.16,316.77 L714.49,317.4 L715.83,317.99 L717.2,318.55 L718.59,319.07 L720.01,319.55 L721.46,319.98 L722.93,320.38 L724.43,320.74 L725.94,321.05 L727.47,321.31 L729.01,321.53 L730.55,321.69 L732.1,321.81 L733.65,321.87 L735.19,321.88 L736.72,321.83 L738.24,321.72 L739.74,321.56 L741.22,321.33 L742.69,321.06 L744.14,320.73 L745.57,320.34 L746.99,319.92 L748.39,319.44 L749.78,318.92 L751.16,318.36 L752.52,317.76 L753.87,317.13 L755.21,316.46 L756.54,315.76 L757.86,315.02 L759.17,314.27 L760.46,313.48 L761.75,312.68 L763.03,311.85 L764.31,311.01 L765.58,310.15 L766.84,309.28 L768.09,308.39 L769.34,307.5 L770.59,306.6 L771.83,305.7 L773.06,304.8 L774.3,303.9 L775.54,303 L776.78,302.11 L778.02,301.23 L779.28,300.37 L780.56,299.53 L781.86,298.71 L783.18,297.92 L784.53,297.17 L785.91,296.45 L787.33,295.78 L788.75,295.19 L790.16,294.72 L791.53,294.41 L792.85,294.3 L794.09,294.42" fill="none" stroke="#4a43a0" stroke-width="5" stroke-linecap="round" stroke-linejoin="round" />
<path d="M682.35,299.06 L683.59,298.77 L684.86,298.75 L686.15,298.98 L687.45,299.43 L688.77,300.06 L690.09,300.84 L691.42,301.74 L692.75,302.71 L694.07,303.74 L695.38,304.77 L696.67,305.79 L697.95,306.79 L699.22,307.77 L700.49,308.73 L701.74,309.66 L702.99,310.56 L704.25,311.44 L705.5,312.29 L706.75,313.12 L708.01,313.91 L709.28,314.67 L710.56,315.4 L711.85,316.1 L713.16,316.77 L714.49,317.4 L715.83,317.99 L717.2,318.55 L718.59,319.07 L720.01,319.55 L721.46,319.98 L722.93,320.38 L724.43,320.74 L725.94,321.05 L727.47,321.31 L729.01,321.53 L730.55,321.69 L732.1,321.81 L733.65,321.87 L735.19,321.88 L736.72,321.83 L738.24,321.72 L739.74,321.56 L741.22,321.33 L742.69,321.06 L744.14,320.73 L745.57,320.34 L746.99,319.92 L748.39,319.44 L749.78,318.92 L751.16,318.36 L752.52,317.76 L753.87,317.13 L755.21,316.46 L756.54,315.76 L757.86,315.02 L759.17,314.27 L760.46,313.48 L761.75,312.68 L763.03,311.85 L764.31,311.01 L765.58,310.15 L766.84,309.28 L768.09,308.39 L769.34,307.5 L770.59,306.6 L771.83,305.7 L773.06,304.8 L774.3,303.9 L775.54,303 L776.78,302.11 L778.02,301.23 L779.28,300.37 L780.56,299.53 L781.86,298.71 L783.18,297.92 L784.53,297.17 L785.91,296.45 L787.33,295.78 L788.75,295.19 L790.16,294.72 L791.53,294.41 L792.85,294.3 L794.09,294.42" fill="none" stroke="#c0604a" stroke-width="1" stroke-linecap="round" stroke-linejoin="round" />
<path d="M879.92,367.69 L881.11,366.81 L882.27,365.9 L883.4,364.97 L884.5,364 L885.58,363 L886.64,361.97 L887.68,360.92 L888.69,359.84 L889.68,358.73 L890.66,357.6 L891.61,356.45 L892.55,355.28 L893.47,354.09 L894.37,352.87 L895.26,351.64 L896.13,350.4 L896.99,349.14 L897.84,347.86 L898.68,346.57 L899.51,345.26 L900.32,343.95 L901.13,342.62 L901.93,341.29 L902.73,339.95 L903.52,338.6 L904.3,337.24 L905.08,335.88 L905.86,334.52 L906.64,333.15 L907.41,331.79 L908.19,330.42 L908.97,329.05 L909.74,327.69 L910.53,326.33 L911.31,324.97 L912.1,323.62 L912.9,322.27 L913.7,320.93 L914.51,319.6 L915.32,318.28 L916.15,316.97 L916.99,315.68 L917.84,314.39 L918.7,313.12 L919.58,311.87 L920.46,310.63 L921.37,309.41 L922.29,308.21 L923.22,307.03 L924.18,305.86 L925.15,304.73 L926.15,303.61 L927.16,302.52 L928.2,301.45 L929.26,300.41 L930.34,299.4 L931.44,298.41 L932.58,297.46 L933.74,296.54 L934.92,295.64 L936.14,294.79 L937.38,293.96 L938.65,293.18 L939.94,292.46 L941.25,291.79 L942.58,291.19 L943.93,290.66 L945.28,290.22 L946.65,289.88 L948.02,289.63 L949.4,289.5 L950.77,289.48 L952.14,289.57 L953.51,289.78 L954.86,290.09 L956.2,290.51 L957.51,291.03 L958.81,291.64 L960.08,292.36 L961.31,293.17 L962.52,294.08 L963.69,295.07 L964.83,296.13 L965.94,297.27 L967.02,298.48 L968.07,299.74 L969.1,301.05 L970.1,302.41 L971.08,303.8 L972.04,305.23 L972.98,306.67 L973.9,308.14 L974.8,309.62 L975.68,311.1 L976.55,312.58 L977.4,314.04 L978.24,315.49 L979.07,316.92 L979.89,318.32 L980.71,319.68 L981.51,320.99 L982.31,322.26 L983.1,323.47 L983.89,324.61 L984.68,325.68 L985.47,326.68 L986.26,327.58 L987.05,328.4" fill="none" stroke="#17a244" stroke-width="5" stroke-linecap="round" stroke-linejoin="round" />
</g>
<path d="M691.5,16 L692.5,17.19 L693.5,18.38 L694.5,19.56 L695.5,20.75 L696.5,21.93 L697.5,23.11 L698.5,24.29 L699.5,25.48 L700.5,26.66 L701.5,27.83 L702.5,29.01 L703.5,30.19 L704.5,31.36 L705.5,32.54 L706.5,33.71 L707.5,34.88 L708.5,36.04 L709.5,37.21 L710.5,38.37 L711.5,39.53 L712.5,40.69 L713.5,41.84 L714.5,42.99 L715.5,44.13 L716.5,45.27 L717.5,46.4 L718.5,47.53 L719.5,48.64 L720.5,49.75 L721.5,50.85 L722.5,51.93 L723.5,53 L724.5,54.05 L725.5,55.07 L726.5,56.07 L727.5,57.04 L728.5,57.96 L729.5,58.83 L730.5,59.63 L731.5,60.35 L732.5,60.96 L733.5,61.46 L734.5,61.8 L735.5,61.98 L736.5,61.98 L737.5,61.78 L738.5,61.41 L739.5,60.88 L740.5,60.22 L741.5,59.45 L742.5,58.6 L743.5,57.68 L744.5,56.7 L745.5,55.68 L746.5,54.63 L747.5,53.55 L748.5,52.45 L749.5,51.32 L750.5,50.19 L751.5,49.04 L752.5,47.88 L753.5,46.71 L754.5,45.53 L755.5,44.35 L756.5,43.16 L757.5,41.96 L758.5,40.76 L759.5,39.56 L760.5,38.35 L761.5,37.14 L762.5,35.92 L763.5,34.71 L764.5,33.49 L765.5,32.27 L766.5,31.04 L767.5,29.82 L768.5,28.59 L769.5,27.37 L770.5,26.14 L771.5,24.91 L772.5,23.68 L773.5,22.45 L774.5,21.21 L775.5,19.98 L776.5,18.75 L777.5,17.51 L778.5,16.28" fill="none" stroke="#e36c12" stroke-width="2.5" stroke-linecap="round" stroke-linejoin="round" />
<path d="M728.5,57.96 L729.5,58.83 L730.5,59.63 L731.5,60.35 L732.5,60.96 L733.5,61.46 L734.5,61.8 L735.5,61.98 L736.5,61.98 L737.5,61.78 L738.5,61.41 L739.5,60.88 L740.5,60.22 L741.5,59.45 L742.5,58.6 L743.5,57.68" fill="none" stroke="#e36c12" stroke-width="4" stroke-linecap="round" stroke-linejoin="round" />
<text x="107.6" y="44" font-size="33" text-anchor="end" textLength="16" lengthAdjust="spacingAndGlyphs" fill="#000"  >2</text>
<text x="107.6" y="106.15" font-size="33" text-anchor="end" textLength="16" lengthAdjust="spacingAndGlyphs" fill="#000"  >1</text>
<text x="107.6" y="168.3" font-size="33" text-anchor="end" textLength="16" lengthAdjust="spacingAndGlyphs" fill="#000"  >0</text>
<text x="107.6" y="230.45" font-size="33" text-anchor="end" textLength="16" lengthAdjust="spacingAndGlyphs" fill="#000"  >1</text>
<rect x="64.1" y="220.5" width="22" height="2.3" fill="#000"/>
<text x="107.6" y="292.6" font-size="33" text-anchor="end" textLength="16" lengthAdjust="spacingAndGlyphs" fill="#000"  >2</text>
<rect x="64.1" y="282.65" width="22" height="2.3" fill="#000"/>
<text x="107.6" y="354.75" font-size="33" text-anchor="end" textLength="16" lengthAdjust="spacingAndGlyphs" fill="#000"  >3</text>
<rect x="64.1" y="344.8" width="22" height="2.3" fill="#000"/>
<text x="606" y="45.8" font-size="33" text-anchor="end" textLength="16" lengthAdjust="spacingAndGlyphs" fill="#000"  >2</text>
<text x="606" y="108" font-size="33" text-anchor="end" textLength="16" lengthAdjust="spacingAndGlyphs" fill="#000"  >1</text>
<text x="606" y="170.2" font-size="33" text-anchor="end" textLength="16" lengthAdjust="spacingAndGlyphs" fill="#000"  >0</text>
<text x="606" y="232.4" font-size="33" text-anchor="end" textLength="16" lengthAdjust="spacingAndGlyphs" fill="#000"  >1</text>
<rect x="562.5" y="222.45" width="22" height="2.3" fill="#000"/>
<text x="606" y="294.6" font-size="33" text-anchor="end" textLength="16" lengthAdjust="spacingAndGlyphs" fill="#000"  >2</text>
<rect x="562.5" y="284.65" width="22" height="2.3" fill="#000"/>
<text x="606" y="356.8" font-size="33" text-anchor="end" textLength="16" lengthAdjust="spacingAndGlyphs" fill="#000"  >3</text>
<rect x="562.5" y="346.85" width="22" height="2.3" fill="#000"/>
<text transform="translate(40.3,286.4) rotate(-90)" x="0" y="0" font-size="33" textLength="199.8" lengthAdjust="spacingAndGlyphs" fill="#000">Energy (eV)</text>
<text transform="translate(537,291.5) rotate(-90)" x="0" y="0" font-size="33" textLength="199.6" lengthAdjust="spacingAndGlyphs" fill="#000">Energy (eV)</text>
<text x="15.5" y="35" font-size="33" text-anchor="start" textLength="41.7" lengthAdjust="spacingAndGlyphs" fill="#000"  >(a)</text>
<text x="514.6" y="27" font-size="33" text-anchor="start" textLength="45.9" lengthAdjust="spacingAndGlyphs" fill="#000"  >(b)</text>
<text x="102.6" y="398" font-size="33" text-anchor="start" textLength="33.9" lengthAdjust="spacingAndGlyphs" fill="#000" font-style="italic" >M</text>
<text x="221" y="398" font-size="33" text-anchor="start" textLength="23" lengthAdjust="spacingAndGlyphs" fill="#000" font-style="italic" >&#915;</text>
<text x="359" y="398" font-size="33" text-anchor="start" textLength="29" lengthAdjust="spacingAndGlyphs" fill="#000" font-style="italic" >K</text>
<text x="425" y="398" font-size="33" text-anchor="start" textLength="33" lengthAdjust="spacingAndGlyphs" fill="#000" font-style="italic" >M</text>
<text x="605.7" y="396.5" font-size="33" text-anchor="start" textLength="34.3" lengthAdjust="spacingAndGlyphs" fill="#000" font-style="italic" >M</text>
<text x="723.8" y="396.5" font-size="33" text-anchor="start" textLength="24.7" lengthAdjust="spacingAndGlyphs" fill="#000" font-style="italic" >&#915;</text>
<text x="862.8" y="396.5" font-size="33" text-anchor="start" textLength="28.5" lengthAdjust="spacingAndGlyphs" fill="#000" font-style="italic" >K</text>
<text x="928.3" y="396.5" font-size="33" text-anchor="start" textLength="32.7" lengthAdjust="spacingAndGlyphs" fill="#000" font-style="italic" >M</text>
<text x="123.2" y="140.5" font-size="33" text-anchor="start" textLength="121.5" lengthAdjust="spacingAndGlyphs" fill="#000"  style="stroke:#d0dff2">1.43 eV</text>
<text x="328.7" y="136.9" font-size="33" text-anchor="start" textLength="111.4" lengthAdjust="spacingAndGlyphs" fill="#000"  style="stroke:#d0dff2">CuHSe</text>
<text x="632.5" y="137.2" font-size="33" text-anchor="start" textLength="122.9" lengthAdjust="spacingAndGlyphs" fill="#000"  style="stroke:#d0dff2">1.51 eV</text>
<text x="825.5" y="133.7" font-size="33" text-anchor="start" textLength="119.3" lengthAdjust="spacingAndGlyphs" fill="#000"  style="stroke:#d0dff2">CuLiSe</text>
<line x1="47" y1="424" x2="90.4" y2="424" stroke="#e36c12" stroke-width="4.3"/>
<text x="93.5" y="434" font-size="31.5" fill="#e36c12" textLength="223" lengthAdjust="spacingAndGlyphs"><tspan font-style="italic">X</tspan>-s (<tspan font-style="italic">X</tspan> = H, Li)</text>
<line x1="349.2" y1="425" x2="391.2" y2="425" stroke="#17a244" stroke-width="4.4"/>
<text x="401" y="434" font-size="31.5" fill="#17a244" textLength="60" lengthAdjust="spacingAndGlyphs">Se-p</text>
<text x="461.6" y="438" font-size="21" fill="#17a244" font-style="italic" textLength="31" lengthAdjust="spacingAndGlyphs">x,y</text>
<text x="494" y="434" font-size="31.5" fill="#17a244" textLength="84" lengthAdjust="spacingAndGlyphs">/Cu-d</text>
<text x="580.2" y="438" font-size="21" fill="#17a244" font-style="italic" textLength="43.4" lengthAdjust="spacingAndGlyphs">xy,x</text>
<text x="625.1" y="432.5" font-size="19" fill="#17a244" textLength="9.3" lengthAdjust="spacingAndGlyphs">2</text>
<text x="637.5" y="438" font-size="21" fill="#17a244" textLength="14" lengthAdjust="spacingAndGlyphs">&#8722;</text>
<text x="653.8" y="438" font-size="21" fill="#17a244" font-style="italic" textLength="11.6" lengthAdjust="spacingAndGlyphs">y</text>
<text x="666.2" y="432.5" font-size="19" fill="#17a244" textLength="10" lengthAdjust="spacingAndGlyphs">2</text>
<line x1="699.8" y1="425.3" x2="741.7" y2="425.3" stroke="#2d479c" stroke-width="4.8"/>
<text x="756" y="434" font-size="31.5" fill="#2d479c" textLength="60" lengthAdjust="spacingAndGlyphs">Se-p</text>
<text x="816.5" y="438" font-size="21" fill="#2d479c" font-style="italic" textLength="10" lengthAdjust="spacingAndGlyphs">z</text>
<text x="829" y="434" font-size="31.5" fill="#2d479c" textLength="84" lengthAdjust="spacingAndGlyphs">/Cu-d</text>
<text x="915" y="438" font-size="21" fill="#2d479c" font-style="italic" textLength="52.5" lengthAdjust="spacingAndGlyphs">xz,yz</text>
<clipPath id="cc"><rect x="113.8" y="495.0" width="331.3" height="351.0"/></clipPath>
<line x1="114" y1="670.5" x2="446" y2="670.5" stroke="#a6a6a6" stroke-width="3" stroke-dasharray="8.6 12.3" stroke-dashoffset="0"/>
<line x1="237.2" y1="500" x2="237.2" y2="846" stroke="#a6a6a6" stroke-width="3.3" stroke-dasharray="8.7 12.3" stroke-dashoffset="0"/>
<line x1="375.2" y1="500" x2="375.2" y2="846" stroke="#a6a6a6" stroke-width="3.3" stroke-dasharray="8.7 12.3" stroke-dashoffset="0"/>
<rect x="113.8" y="495" width="331.3" height="351" fill="none" stroke="#1c1412" stroke-width="2.3"/>
<line x1="113.8" y1="530.15" x2="122.2" y2="530.15" stroke="#1c1412" stroke-width="2.1"/>
<line x1="113.8" y1="600.25" x2="122.2" y2="600.25" stroke="#1c1412" stroke-width="2.1"/>
<line x1="113.8" y1="670.35" x2="122.2" y2="670.35" stroke="#1c1412" stroke-width="2.1"/>
<line x1="113.8" y1="740.45" x2="122.2" y2="740.45" stroke="#1c1412" stroke-width="2.1"/>
<line x1="113.8" y1="810.55" x2="122.2" y2="810.55" stroke="#1c1412" stroke-width="2.1"/>
<line x1="113.8" y1="565.2" x2="117.8" y2="565.2" stroke="#1c1412" stroke-width="2.1"/>
<line x1="113.8" y1="635.3" x2="117.8" y2="635.3" stroke="#1c1412" stroke-width="2.1"/>
<line x1="113.8" y1="705.4" x2="117.8" y2="705.4" stroke="#1c1412" stroke-width="2.1"/>
<line x1="113.8" y1="775.5" x2="117.8" y2="775.5" stroke="#1c1412" stroke-width="2.1"/>
<rect x="113" y="594.9" width="332" height="75.8" fill="rgba(155,186,226,0.45)"/>
<g clip-path="url(#cc)" fill="none" stroke="#1c1412" stroke-width="2.1">
<path d="M113.5,534.7 C117.3,535.43 128.12,535.73 136.3,539.1 C144.48,542.47 153.82,549.63 162.6,554.9 C171.38,560.17 180.22,565.27 189,570.7 C197.78,576.13 209.13,583.7 215.3,587.5 C221.47,591.3 222.35,591.92 226,593.5 C229.65,595.08 232.75,597.22 237.2,597 C241.65,596.78 246.33,595.28 252.7,592.2 C259.07,589.12 267.83,583.43 275.4,578.5 C282.97,573.57 290.53,567.88 298.1,562.6 C305.67,557.32 313.23,552.08 320.8,546.8 C328.37,541.52 335.93,535.45 343.5,530.9 C351.07,526.35 360.15,521.78 366.2,519.5 C372.25,517.22 374.12,516.82 379.8,517.2 C385.48,517.58 393.1,519.72 400.3,521.8 C407.5,523.88 415.38,527.73 423,529.7 C430.62,531.67 442.17,532.95 446,533.6"/>
<path d="M113.5,522.5 C117.3,523.08 128.12,524.55 136.3,526 C144.48,527.45 154.7,529.45 162.6,531.2 C170.5,532.95 177.27,534.02 183.7,536.5 C190.13,538.98 195.93,542.73 201.2,546.1 C206.47,549.47 211.2,553.92 215.3,556.7 C219.4,559.48 222.15,561.55 225.8,562.8 C229.45,564.05 232.72,564.42 237.2,564.2 C241.68,563.98 245.57,565.37 252.7,561.5 C259.83,557.63 270.53,546.48 280,541 C289.47,535.52 298.92,532.57 309.5,528.6 C320.08,524.63 334.05,519.85 343.5,517.2 C352.95,514.55 358.62,513.45 366.2,512.7 C373.78,511.95 381.43,512.32 389,512.7 C396.57,513.08 402.1,513.87 411.6,515 C421.1,516.13 440.27,518.75 446,519.5"/>
<path d="M113.5,512.8 C116.72,512.8 126.07,513.03 132.8,512.8 C139.53,512.57 148.93,511.55 153.9,511.4 C158.87,511.25 158.22,510.63 162.6,511.9 C166.98,513.17 174.35,515.92 180.2,519 C186.05,522.08 191.85,527.33 197.7,530.4 C203.55,533.47 208.72,535.63 215.3,537.4 C221.88,539.17 229.08,540.95 237.2,541 C245.32,541.05 255.73,540.53 264,537.7 C272.27,534.87 279.22,531.2 286.8,524 C294.38,516.8 305.72,499.42 309.5,494.5"/>
<path d="M169.6,494 C172.83,496.55 182.85,505.15 189,509.3 C195.15,513.45 200.67,516.33 206.5,518.9 C212.33,521.47 218.88,523.58 224,524.7 C229.12,525.82 232.42,525.78 237.2,525.6 C241.98,525.42 246.33,525.37 252.7,523.6 C259.07,521.83 268.97,518.33 275.4,515 C281.83,511.67 286.37,507.1 291.3,503.6 C296.23,500.1 302.72,495.6 305,494"/>
<path d="M425,494 C426.67,495.83 431.5,502.07 435,505 C438.5,507.93 444.17,510.5 446,511.6"/>
<path d="M113.5,731 C117.3,730.13 128.12,729.15 136.3,725.8 C144.48,722.45 153.82,716.6 162.6,710.9 C171.38,705.2 180.22,697.45 189,691.6 C197.78,685.75 207.27,679.37 215.3,675.8 C223.33,672.23 229.08,669.43 237.2,670.2 C245.32,670.97 255.73,676.05 264,680.4 C272.27,684.75 279.22,690.23 286.8,696.3 C294.38,702.37 301.93,710.37 309.5,716.8 C317.07,723.23 324.63,729.62 332.2,734.9 C339.77,740.18 347.72,745.4 354.9,748.5 C362.08,751.6 369.63,752.73 375.3,753.5 C380.97,754.27 382.85,754.3 388.9,753.1 C394.95,751.9 404.78,748.95 411.6,746.3 C418.42,743.65 424.07,739.48 429.8,737.2 C435.53,734.92 443.3,733.37 446,732.6"/>
<path d="M113.5,756.5 C117.3,756.2 129.57,756.45 136.3,754.7 C143.03,752.95 147.17,750.38 153.9,746 C160.63,741.62 169.4,735.42 176.7,728.4 C184,721.38 191.27,711.2 197.7,703.9 C204.13,696.6 210.03,689.87 215.3,684.6 C220.57,679.33 225.65,674.7 229.3,672.3 C232.95,669.9 233.3,669.42 237.2,670.2 C241.1,670.98 246.33,671.52 252.7,677 C259.07,682.48 267.83,694.97 275.4,703.1 C282.97,711.23 290.53,718.98 298.1,725.8 C305.67,732.62 313.23,739.08 320.8,744 C328.37,748.92 335.93,752.65 343.5,755.3 C351.07,757.95 360.9,759.07 366.2,759.9 C371.5,760.73 369.62,760.48 375.3,760.3 C380.98,760.12 392.35,759.32 400.3,758.8 C408.25,758.28 415.38,757.58 423,757.2 C430.62,756.82 442.17,756.62 446,756.5"/>
<path d="M113.5,765.3 C117.3,764.85 128.12,763.25 136.3,762.6 C144.48,761.95 153.82,761.25 162.6,761.4 C171.38,761.55 180.22,762.77 189,763.5 C197.78,764.23 207.27,765.33 215.3,765.8 C223.33,766.27 229.9,766.43 237.2,766.3 C244.5,766.17 250.83,765.62 259.1,765 C267.37,764.38 276.52,763.27 286.8,762.6 C297.08,761.93 309.45,761.15 320.8,761 C332.15,760.85 345.82,761.4 354.9,761.7 C363.98,762 367.73,762.42 375.3,762.8 C382.87,763.18 388.52,763.65 400.3,764 C412.08,764.35 438.38,764.75 446,764.9"/>
<path d="M113.5,769.6 C134.12,769.47 206.45,768.9 237.2,768.8 C267.95,768.7 280.28,768.6 298,769 C315.72,769.4 330.62,770.45 343.5,771.2 C356.38,771.95 363.95,773.5 375.3,773.5 C386.65,773.5 399.82,771.95 411.6,771.2 C423.38,770.45 440.27,769.37 446,769"/>
<path d="M113.5,771 C134.12,770.92 206.45,770.58 237.2,770.5 C267.95,770.42 280.28,770.28 298,770.5 C315.72,770.72 330.62,771.47 343.5,771.8 C356.38,772.13 363.95,772.5 375.3,772.5 C386.65,772.5 399.82,772.13 411.6,771.8 C423.38,771.47 440.27,770.72 446,770.5"/>
<path d="M113.5,808.2 C117.3,808.65 128.12,809.28 136.3,810.9 C144.48,812.52 153.82,815.72 162.6,817.9 C171.38,820.08 180.22,822.25 189,824 C197.78,825.75 207.27,827.52 215.3,828.4 C223.33,829.28 230.97,829.18 237.2,829.3 C243.43,829.42 244.43,830.27 252.7,829.1 C260.97,827.93 273.55,824.57 286.8,822.3 C300.05,820.03 317.45,816.45 332.2,815.5 C346.95,814.55 365.85,816.42 375.3,816.6 C384.75,816.78 380.95,817.53 388.9,816.6 C396.85,815.67 413.48,812.32 423,811 C432.52,809.68 442.17,809.08 446,808.7"/>
<path d="M169.6,847 C172.83,845.75 181.38,841.92 189,839.5 C196.62,837.08 207.27,834.15 215.3,832.5 C223.33,830.85 230.97,830.05 237.2,829.6 C243.43,829.15 246.33,828.93 252.7,829.8 C259.07,830.67 265.93,831.93 275.4,834.8 C284.87,837.67 303.82,844.97 309.5,847"/>
</g>
<text x="107.8" y="539.45" font-size="33" text-anchor="end" textLength="16" lengthAdjust="spacingAndGlyphs" fill="#000"  >4</text>
<text x="107.8" y="609.55" font-size="33" text-anchor="end" textLength="16" lengthAdjust="spacingAndGlyphs" fill="#000"  >2</text>
<text x="107.8" y="679.65" font-size="33" text-anchor="end" textLength="16" lengthAdjust="spacingAndGlyphs" fill="#000"  >0</text>
<text x="107.8" y="749.75" font-size="33" text-anchor="end" textLength="16" lengthAdjust="spacingAndGlyphs" fill="#000"  >2</text>
<rect x="64.3" y="739.8" width="22" height="2.3" fill="#000"/>
<text x="107.8" y="819.85" font-size="33" text-anchor="end" textLength="16" lengthAdjust="spacingAndGlyphs" fill="#000"  >4</text>
<rect x="64.3" y="809.9" width="22" height="2.3" fill="#000"/>
<text transform="translate(39.3,762.9) rotate(-90)" x="0" y="0" font-size="33" textLength="199.6" lengthAdjust="spacingAndGlyphs" fill="#000">Energy (eV)</text>
<text x="20.4" y="508.5" font-size="33" text-anchor="start" textLength="42.3" lengthAdjust="spacingAndGlyphs" fill="#000"  >(c)</text>
<text x="101" y="879" font-size="33" text-anchor="start" textLength="34.7" lengthAdjust="spacingAndGlyphs" fill="#000" font-style="italic" >M</text>
<text x="219.6" y="879" font-size="33" text-anchor="start" textLength="23.7" lengthAdjust="spacingAndGlyphs" fill="#000" font-style="italic" >&#915;</text>
<text x="357.9" y="879" font-size="33" text-anchor="start" textLength="28.9" lengthAdjust="spacingAndGlyphs" fill="#000" font-style="italic" >K</text>
<text x="427" y="879" font-size="33" text-anchor="start" textLength="34.4" lengthAdjust="spacingAndGlyphs" fill="#000" font-style="italic" >M</text>
<text x="124" y="646.1" font-size="33" text-anchor="start" textLength="122.8" lengthAdjust="spacingAndGlyphs" fill="#000"  style="stroke:#d0dff2">2.08 eV</text>
<text x="326.5" y="647.8" font-size="33" text-anchor="start" textLength="111.2" lengthAdjust="spacingAndGlyphs" fill="#000"  style="stroke:#d0dff2">CuHSe</text>
<clipPath id="cd"><rect x="613.0" y="497.2" width="334.20000000000005" height="349.40000000000003"/></clipPath>
<line x1="613.5" y1="671.8" x2="955" y2="671.8" stroke="#a6a6a6" stroke-width="3" stroke-dasharray="8.6 12.3" stroke-dashoffset="0"/>
<line x1="738.4" y1="502" x2="738.4" y2="846" stroke="#a6a6a6" stroke-width="3.3" stroke-dasharray="8.7 12.3" stroke-dashoffset="0"/>
<line x1="877.6" y1="502" x2="877.6" y2="846" stroke="#a6a6a6" stroke-width="3.3" stroke-dasharray="8.7 12.3" stroke-dashoffset="0"/>
<rect x="613" y="497.2" width="334.2" height="349.4" fill="none" stroke="#1c1412" stroke-width="2.3"/>
<line x1="613" y1="531.9" x2="621.4" y2="531.9" stroke="#1c1412" stroke-width="2.1"/>
<line x1="613" y1="601.8" x2="621.4" y2="601.8" stroke="#1c1412" stroke-width="2.1"/>
<line x1="613" y1="671.7" x2="621.4" y2="671.7" stroke="#1c1412" stroke-width="2.1"/>
<line x1="613" y1="741.6" x2="621.4" y2="741.6" stroke="#1c1412" stroke-width="2.1"/>
<line x1="613" y1="811.5" x2="621.4" y2="811.5" stroke="#1c1412" stroke-width="2.1"/>
<line x1="613" y1="566.85" x2="617" y2="566.85" stroke="#1c1412" stroke-width="2.1"/>
<line x1="613" y1="636.75" x2="617" y2="636.75" stroke="#1c1412" stroke-width="2.1"/>
<line x1="613" y1="706.65" x2="617" y2="706.65" stroke="#1c1412" stroke-width="2.1"/>
<line x1="613" y1="776.55" x2="617" y2="776.55" stroke="#1c1412" stroke-width="2.1"/>
<rect x="612" y="599.9" width="331.2" height="72.2" fill="rgba(155,186,226,0.45)"/>
<g clip-path="url(#cd)" fill="none" stroke="#1c1412" stroke-width="2.1">
<path d="M613.3,556.7 C615.33,556.55 619.65,556.25 625.5,555.8 C631.35,555.35 642.55,553.57 648.4,554 C654.25,554.43 654.17,555.03 660.6,558.4 C667.03,561.77 678.22,568.93 687,574.2 C695.78,579.47 706.58,585.9 713.3,590 C720.02,594.1 723.13,596.8 727.3,598.8 C731.47,600.8 733.9,602.13 738.3,602 C742.7,601.87 747.17,601.23 753.7,598 C760.23,594.77 769.58,587.93 777.5,582.6 C785.42,577.27 793.28,571.93 801.2,566 C809.12,560.07 818.67,551.37 825,547 C831.33,542.63 833.28,541.58 839.2,539.8 C845.12,538.02 852.98,537.17 860.5,536.3 C868.02,535.43 876.38,534.2 884.3,534.6 C892.22,535 900.08,536.25 908,538.7 C915.92,541.15 925.3,546.53 931.8,549.3 C938.3,552.07 944.47,554.3 947,555.3"/>
<path d="M613.3,531.2 C618.27,531.35 632.87,531.65 643.1,532.1 C653.33,532.55 667.38,533.02 674.7,533.9 C682.02,534.78 682.03,535.37 687,537.4 C691.97,539.43 698.67,542.88 704.5,546.1 C710.33,549.32 716.37,554.47 722,556.7 C727.63,558.93 733.02,559.53 738.3,559.5 C743.58,559.47 747.17,559.38 753.7,556.5 C760.23,553.62 769.58,547.35 777.5,542.2 C785.42,537.05 793.28,530.73 801.2,525.6 C809.12,520.47 817.08,515.95 825,511.4 C832.92,506.85 844.2,501.03 848.7,498.3 C853.2,495.57 851.45,495.55 852,495"/>
<path d="M670,496 C670.78,496.47 671.87,497.32 674.7,498.8 C677.53,500.28 682.03,502.72 687,504.9 C691.97,507.08 698.67,509.85 704.5,511.9 C710.33,513.95 716.37,516.18 722,517.2 C727.63,518.22 733.02,518.18 738.3,518 C743.58,517.82 747.17,517.6 753.7,516.1 C760.23,514.6 769.58,511.97 777.5,509 C785.42,506.03 796.45,500.63 801.2,498.3 C805.95,495.97 805.2,495.55 806,495"/>
<path d="M690,496 C690.95,496.32 691.82,496.7 695.7,497.9 C699.58,499.1 706.2,501.67 713.3,503.2 C720.4,504.73 731.57,506.73 738.3,507.1 C745.03,507.47 747.57,506.87 753.7,505.4 C759.83,503.93 770.72,500.03 775.1,498.3 C779.48,496.57 779.18,495.55 780,495"/>
<path d="M912,495 C912.52,495.55 912.6,495.18 915.1,498.3 C917.6,501.42 923.03,509.15 927,513.7 C930.97,518.25 935.57,523.02 938.9,525.6 C942.23,528.18 945.65,528.6 947,529.2"/>
<path d="M613.3,746.8 C616.8,745.78 627.87,743.77 634.3,740.7 C640.73,737.63 646.93,731.47 651.9,728.4 C656.87,725.33 658.25,726.38 664.1,722.3 C669.95,718.22 678.8,710.48 687,703.9 C695.2,697.32 704.8,688.13 713.3,682.8 C721.8,677.47 729.28,671.75 738,671.9 C746.72,672.05 757.05,678.77 765.6,683.7 C774.15,688.63 781.78,694.77 789.3,701.5 C796.82,708.23 802.78,721.72 810.7,724.1 C818.62,726.48 828.5,718.18 836.8,715.8 C845.1,713.42 853.7,710.98 860.5,709.8 C867.3,708.62 871.65,708.62 877.6,708.7 C883.55,708.78 889.15,709.4 896.2,710.3 C903.25,711.2 911.43,712.87 919.9,714.1 C928.37,715.33 942.48,717.1 947,717.7"/>
<path d="M613.3,716.1 C616.8,716.68 627.87,717.7 634.3,719.6 C640.73,721.5 645.17,724.57 651.9,727.5 C658.63,730.43 668.57,737.48 674.7,737.2 C680.83,736.92 683.45,731.35 688.7,725.8 C693.95,720.25 699.77,711.65 706.2,703.9 C712.63,696.15 722,684.63 727.3,679.3 C732.6,673.97 733.6,671.55 738,671.9 C742.4,672.25 747.12,675.47 753.7,681.4 C760.28,687.33 770.57,698.73 777.5,707.5 C784.43,716.27 790.17,728.67 795.3,734 C800.43,739.33 803.35,737.6 808.3,739.5 C813.25,741.4 819.85,742.43 825,745.4 C830.15,748.37 833.67,753.53 839.2,757.3 C844.73,761.07 851.8,765.7 858.2,768 C864.6,770.3 871.27,770.9 877.6,771.1 C883.93,771.3 889.15,771.1 896.2,769.2 C903.25,767.3 911.43,763.07 919.9,759.7 C928.37,756.33 942.48,750.78 947,749"/>
<path d="M613.3,770.5 C616.8,770.22 627.87,769.97 634.3,768.8 C640.73,767.63 645.17,766.72 651.9,763.5 C658.63,760.28 666.08,750.08 674.7,749.5 C683.32,748.92 695.72,757.52 703.6,760 C711.48,762.48 716.22,763.52 722,764.4 C727.78,765.28 731.03,766.48 738.3,765.3 C745.57,764.12 756.1,760.02 765.6,757.3 C775.1,754.58 787.78,749.78 795.3,749 C802.82,748.22 805.75,750.42 810.7,752.6 C815.65,754.78 820.25,759.33 825,762.1 C829.75,764.87 833.67,767.75 839.2,769.2 C844.73,770.65 851.8,770.5 858.2,770.8 C864.6,771.1 862.8,771 877.6,771 C892.4,771 935.43,770.83 947,770.8"/>
<path d="M613.3,781 C619.73,780.13 643.43,776.73 651.9,775.8 C660.37,774.87 658.25,775.25 664.1,775.4 C669.95,775.55 678.8,775.97 687,776.7 C695.2,777.43 704.75,779.08 713.3,779.8 C721.85,780.52 729.58,781.38 738.3,781 C747.02,780.62 753.93,778.37 765.6,777.5 C777.27,776.63 798.4,775.92 808.3,775.8 C818.2,775.68 817.48,775.92 825,776.8 C832.52,777.68 844.63,780.38 853.4,781.1 C862.17,781.82 868.5,781.03 877.6,781.1 C886.7,781.17 896.43,781.32 908,781.5 C919.57,781.68 940.5,782.08 947,782.2"/>
<path d="M613.3,782.8 C634.13,782.67 706.98,782.1 738.3,782 C769.62,781.9 784.78,781.97 801.2,782.2 C817.62,782.43 825.72,782.4 836.8,783.4 C847.88,784.4 860.9,787.2 867.7,788.2 C874.5,789.2 872.85,789.4 877.6,789.4 C882.35,789.4 889.15,789 896.2,788.2 C903.25,787.4 911.43,785.6 919.9,784.6 C928.37,783.6 942.48,782.6 947,782.2"/>
<path d="M613.3,804.7 C618.27,804.33 632.28,803.52 643.1,802.5 C653.92,801.48 666.5,800.27 678.2,798.6 C689.9,796.93 703.28,793.87 713.3,792.5 C723.32,791.13 731.57,790.53 738.3,790.4 C745.03,790.27 745.2,790.28 753.7,791.7 C762.2,793.12 777.42,797.12 789.3,798.9 C801.18,800.68 810.28,801.42 825,802.4 C839.72,803.38 857.27,804.4 877.6,804.8 C897.93,805.2 935.43,804.8 947,804.8"/>
<path d="M613.3,814.4 C616.8,814.83 626.42,815.25 634.3,817 C642.18,818.75 651.82,822.42 660.6,824.9 C669.38,827.38 678.22,830 687,831.9 C695.78,833.8 704.75,835.37 713.3,836.3 C721.85,837.23 729.58,837.62 738.3,837.5 C747.02,837.38 755.12,837.1 765.6,835.6 C776.08,834.1 789.33,830.67 801.2,828.5 C813.07,826.33 826.92,823.58 836.8,822.6 C846.68,821.62 853.7,822.4 860.5,822.6 C867.3,822.8 871.65,823.8 877.6,823.8 C883.55,823.8 889.15,823.6 896.2,822.6 C903.25,821.6 911.43,819.1 919.9,817.8 C928.37,816.5 942.48,815.3 947,814.8"/>
<path d="M688,848 C688.7,847.72 687.98,847.55 692.2,846.3 C696.42,845.05 705.62,841.88 713.3,840.5 C720.98,839.12 731,838.12 738.3,838 C745.6,837.88 750.48,838.62 757.1,839.8 C763.72,840.98 773.85,843.73 778,845.1 C782.15,846.47 781.33,847.52 782,848"/>
</g>
<g clip-path="url(#cd)" fill="none" stroke="#2d479c" stroke-width="6.3" stroke-linecap="butt">
<path d="M611,716 C612.5,716.08 616.12,715.75 620,716.5 C623.88,717.25 631.92,719.83 634.3,720.5"/>
<path d="M651.9,729.5 C653.58,730.33 658.65,732.78 662,734.5 C665.35,736.22 670.33,738.92 672,739.8"/>
<path d="M679.9,752.1 C681.92,752.83 688.05,755.18 692,756.5 C695.95,757.82 701.67,759.42 703.6,760"/>
<path d="M722,764.4 C724,764.63 729.9,765.6 734,765.8 C738.1,766 744.5,765.63 746.6,765.6"/>
<path d="M765.6,758.5 C767.33,757.83 772.43,756.08 776,754.5 C779.57,752.92 785.17,749.92 787,749"/>
<path d="M813.1,727.6 C814.92,726.67 820.25,723.77 824,722 C827.75,720.23 833.67,717.83 835.6,717"/>
<path d="M853.4,710.5 C855.5,710.12 861.85,708.58 866,708.2 C870.15,707.82 876.25,708.2 878.3,708.2"/>
<path d="M897.3,709.8 C899.25,710.17 905.03,711.12 909,712 C912.97,712.88 919.08,714.58 921.1,715.1"/>
<path d="M941.3,716 L949,717.5"/>
</g>
<text x="603.5" y="541.2" font-size="33" text-anchor="end" textLength="16" lengthAdjust="spacingAndGlyphs" fill="#000"  >4</text>
<text x="603.5" y="611.1" font-size="33" text-anchor="end" textLength="16" lengthAdjust="spacingAndGlyphs" fill="#000"  >2</text>
<text x="603.5" y="681" font-size="33" text-anchor="end" textLength="16" lengthAdjust="spacingAndGlyphs" fill="#000"  >0</text>
<text x="603.5" y="750.9" font-size="33" text-anchor="end" textLength="16" lengthAdjust="spacingAndGlyphs" fill="#000"  >2</text>
<rect x="560" y="740.95" width="22" height="2.3" fill="#000"/>
<text x="603.5" y="820.8" font-size="33" text-anchor="end" textLength="16" lengthAdjust="spacingAndGlyphs" fill="#000"  >4</text>
<rect x="560" y="810.85" width="22" height="2.3" fill="#000"/>
<text transform="translate(542.3,765.8) rotate(-90)" x="0" y="0" font-size="33" textLength="198.2" lengthAdjust="spacingAndGlyphs" fill="#000">Energy (eV)</text>
<text x="520.4" y="504.5" font-size="33" text-anchor="start" textLength="46.6" lengthAdjust="spacingAndGlyphs" fill="#000"  >(d)</text>
<text x="605.5" y="879" font-size="33" text-anchor="start" textLength="32.5" lengthAdjust="spacingAndGlyphs" fill="#000" font-style="italic" >M</text>
<text x="722.7" y="879" font-size="33" text-anchor="start" textLength="24.2" lengthAdjust="spacingAndGlyphs" fill="#000" font-style="italic" >&#915;</text>
<text x="863" y="879" font-size="33" text-anchor="start" textLength="29" lengthAdjust="spacingAndGlyphs" fill="#000" font-style="italic" >K</text>
<text x="927" y="879" font-size="33" text-anchor="start" textLength="34" lengthAdjust="spacingAndGlyphs" fill="#000" font-style="italic" >M</text>
<text x="629" y="646.1" font-size="33" text-anchor="start" textLength="121.1" lengthAdjust="spacingAndGlyphs" fill="#000"  style="stroke:#d0dff2">1.98 eV</text>
<text x="819" y="647.8" font-size="33" text-anchor="start" textLength="117.5" lengthAdjust="spacingAndGlyphs" fill="#000"  style="stroke:#d0dff2">CuLiSe</text>
<rect x="110.7" y="917.5" width="333.1" height="335" fill="none" stroke="#1c1412" stroke-width="2.3"/>
<line x1="110.7" y1="1239.6" x2="119" y2="1239.6" stroke="#1c1412" stroke-width="2"/>
<line x1="110.7" y1="1162.27" x2="119" y2="1162.27" stroke="#1c1412" stroke-width="2"/>
<line x1="110.7" y1="1084.95" x2="119" y2="1084.95" stroke="#1c1412" stroke-width="2"/>
<line x1="110.7" y1="1007.62" x2="119" y2="1007.62" stroke="#1c1412" stroke-width="2"/>
<line x1="110.7" y1="930.3" x2="119" y2="930.3" stroke="#1c1412" stroke-width="2"/>
<line x1="110.7" y1="1200.94" x2="115" y2="1200.94" stroke="#1c1412" stroke-width="2"/>
<line x1="110.7" y1="1123.61" x2="115" y2="1123.61" stroke="#1c1412" stroke-width="2"/>
<line x1="110.7" y1="1046.29" x2="115" y2="1046.29" stroke="#1c1412" stroke-width="2"/>
<line x1="110.7" y1="968.96" x2="115" y2="968.96" stroke="#1c1412" stroke-width="2"/>
<line x1="138.46" y1="1252.5" x2="138.46" y2="1244.5" stroke="#1c1412" stroke-width="2"/>
<line x1="166.22" y1="1252.5" x2="166.22" y2="1244.5" stroke="#1c1412" stroke-width="2"/>
<line x1="193.98" y1="1252.5" x2="193.98" y2="1244.5" stroke="#1c1412" stroke-width="2"/>
<line x1="221.73" y1="1252.5" x2="221.73" y2="1244.5" stroke="#1c1412" stroke-width="2"/>
<line x1="249.49" y1="1252.5" x2="249.49" y2="1244.5" stroke="#1c1412" stroke-width="2"/>
<line x1="277.25" y1="1252.5" x2="277.25" y2="1244.5" stroke="#1c1412" stroke-width="2"/>
<line x1="305.01" y1="1252.5" x2="305.01" y2="1244.5" stroke="#1c1412" stroke-width="2"/>
<line x1="332.77" y1="1252.5" x2="332.77" y2="1244.5" stroke="#1c1412" stroke-width="2"/>
<line x1="360.53" y1="1252.5" x2="360.53" y2="1244.5" stroke="#1c1412" stroke-width="2"/>
<line x1="388.28" y1="1252.5" x2="388.28" y2="1244.5" stroke="#1c1412" stroke-width="2"/>
<line x1="416.04" y1="1252.5" x2="416.04" y2="1244.5" stroke="#1c1412" stroke-width="2"/>
<line x1="124.58" y1="1252.5" x2="124.58" y2="1247.9" stroke="#1c1412" stroke-width="2"/>
<line x1="152.34" y1="1252.5" x2="152.34" y2="1247.9" stroke="#1c1412" stroke-width="2"/>
<line x1="180.1" y1="1252.5" x2="180.1" y2="1247.9" stroke="#1c1412" stroke-width="2"/>
<line x1="207.85" y1="1252.5" x2="207.85" y2="1247.9" stroke="#1c1412" stroke-width="2"/>
<line x1="235.61" y1="1252.5" x2="235.61" y2="1247.9" stroke="#1c1412" stroke-width="2"/>
<line x1="263.37" y1="1252.5" x2="263.37" y2="1247.9" stroke="#1c1412" stroke-width="2"/>
<line x1="291.13" y1="1252.5" x2="291.13" y2="1247.9" stroke="#1c1412" stroke-width="2"/>
<line x1="318.89" y1="1252.5" x2="318.89" y2="1247.9" stroke="#1c1412" stroke-width="2"/>
<line x1="346.65" y1="1252.5" x2="346.65" y2="1247.9" stroke="#1c1412" stroke-width="2"/>
<line x1="374.4" y1="1252.5" x2="374.4" y2="1247.9" stroke="#1c1412" stroke-width="2"/>
<line x1="402.16" y1="1252.5" x2="402.16" y2="1247.9" stroke="#1c1412" stroke-width="2"/>
<line x1="429.92" y1="1252.5" x2="429.92" y2="1247.9" stroke="#1c1412" stroke-width="2"/>
<line x1="144.11" y1="1003.41" x2="160.57" y2="995.59" stroke="#1c1412" stroke-width="3.0"/>
<line x1="172.41" y1="990.85" x2="187.78" y2="985.75" stroke="#1c1412" stroke-width="3.0"/>
<line x1="200.57" y1="982.13" x2="215.14" y2="978.67" stroke="#1c1412" stroke-width="3.0"/>
<line x1="228.79" y1="976.08" x2="242.44" y2="974.12" stroke="#1c1412" stroke-width="3.0"/>
<line x1="256.94" y1="972.56" x2="269.8" y2="971.64" stroke="#1c1412" stroke-width="3.0"/>
<line x1="285.01" y1="970.93" x2="297.25" y2="970.67" stroke="#1c1412" stroke-width="3.0"/>
<line x1="312.91" y1="970.5" x2="324.87" y2="970.5" stroke="#1c1412" stroke-width="3.0"/>
<line x1="340.3" y1="970.93" x2="352.99" y2="971.67" stroke="#1c1412" stroke-width="3.0"/>
<line x1="368.13" y1="972.46" x2="380.68" y2="973.04" stroke="#1c1412" stroke-width="3.0"/>
<line x1="395.8" y1="973.86" x2="408.52" y2="974.64" stroke="#1c1412" stroke-width="3.0"/>
<path d="M138.46,999.5 L145.06,1006.1 L138.46,1012.7 L131.86,1006.1 Z" fill="#1c1412" stroke="#1c1412" stroke-width="0.6" stroke-linejoin="round"/>
<path d="M166.22,986.3 L172.82,992.9 L166.22,999.5 L159.62,992.9 Z" fill="#1c1412" stroke="#1c1412" stroke-width="0.6" stroke-linejoin="round"/>
<path d="M193.98,977.1 L200.58,983.7 L193.98,990.3 L187.38,983.7 Z" fill="#1c1412" stroke="#1c1412" stroke-width="0.6" stroke-linejoin="round"/>
<path d="M221.73,970.5 L228.33,977.1 L221.73,983.7 L215.13,977.1 Z" fill="#1c1412" stroke="#1c1412" stroke-width="0.6" stroke-linejoin="round"/>
<path d="M249.49,966.5 L256.09,973.1 L249.49,979.7 L242.89,973.1 Z" fill="#1c1412" stroke="#1c1412" stroke-width="0.6" stroke-linejoin="round"/>
<path d="M277.25,964.5 L283.85,971.1 L277.25,977.7 L270.65,971.1 Z" fill="#1c1412" stroke="#1c1412" stroke-width="0.6" stroke-linejoin="round"/>
<path d="M305.01,963.9 L311.61,970.5 L305.01,977.1 L298.41,970.5 Z" fill="#1c1412" stroke="#1c1412" stroke-width="0.6" stroke-linejoin="round"/>
<path d="M332.77,963.9 L339.37,970.5 L332.77,977.1 L326.17,970.5 Z" fill="#1c1412" stroke="#1c1412" stroke-width="0.6" stroke-linejoin="round"/>
<path d="M360.53,965.5 L367.13,972.1 L360.53,978.7 L353.93,972.1 Z" fill="#1c1412" stroke="#1c1412" stroke-width="0.6" stroke-linejoin="round"/>
<path d="M388.28,966.8 L394.88,973.4 L388.28,980 L381.68,973.4 Z" fill="#1c1412" stroke="#1c1412" stroke-width="0.6" stroke-linejoin="round"/>
<path d="M416.04,968.5 L422.64,975.1 L416.04,981.7 L409.44,975.1 Z" fill="#1c1412" stroke="#1c1412" stroke-width="0.6" stroke-linejoin="round"/>
<line x1="143.95" y1="1106.82" x2="160.73" y2="1096.18" stroke="#1c1412" stroke-width="3.0"/>
<line x1="171.97" y1="1089.67" x2="188.22" y2="1081.13" stroke="#1c1412" stroke-width="3.0"/>
<line x1="200.03" y1="1075.72" x2="215.68" y2="1069.58" stroke="#1c1412" stroke-width="3.0"/>
<line x1="228" y1="1065.48" x2="243.22" y2="1061.32" stroke="#1c1412" stroke-width="3.0"/>
<line x1="255.9" y1="1058.54" x2="270.84" y2="1056.06" stroke="#1c1412" stroke-width="3.0"/>
<line x1="283.7" y1="1054.23" x2="298.55" y2="1052.47" stroke="#1c1412" stroke-width="3.0"/>
<line x1="311.5" y1="1051.33" x2="326.28" y2="1050.47" stroke="#1c1412" stroke-width="3.0"/>
<line x1="339.27" y1="1050.01" x2="354.03" y2="1049.79" stroke="#1c1412" stroke-width="3.0"/>
<line x1="367.02" y1="1049.86" x2="381.79" y2="1050.24" stroke="#1c1412" stroke-width="3.0"/>
<line x1="394.78" y1="1050.7" x2="409.55" y2="1051.4" stroke="#1c1412" stroke-width="3.0"/>
<circle cx="138.46" cy="1110.3" r="4.6" fill="#fff" stroke="#1c1412" stroke-width="2.1"/>
<circle cx="166.22" cy="1092.7" r="4.6" fill="#fff" stroke="#1c1412" stroke-width="2.1"/>
<circle cx="193.98" cy="1078.1" r="4.6" fill="#fff" stroke="#1c1412" stroke-width="2.1"/>
<circle cx="221.73" cy="1067.2" r="4.6" fill="#fff" stroke="#1c1412" stroke-width="2.1"/>
<circle cx="249.49" cy="1059.6" r="4.6" fill="#fff" stroke="#1c1412" stroke-width="2.1"/>
<circle cx="277.25" cy="1055" r="4.6" fill="#fff" stroke="#1c1412" stroke-width="2.1"/>
<circle cx="305.01" cy="1051.7" r="4.6" fill="#fff" stroke="#1c1412" stroke-width="2.1"/>
<circle cx="332.77" cy="1050.1" r="4.6" fill="#fff" stroke="#1c1412" stroke-width="2.1"/>
<circle cx="360.53" cy="1049.7" r="4.6" fill="#fff" stroke="#1c1412" stroke-width="2.1"/>
<circle cx="388.28" cy="1050.4" r="4.6" fill="#fff" stroke="#1c1412" stroke-width="2.1"/>
<circle cx="416.04" cy="1051.7" r="4.6" fill="#fff" stroke="#1c1412" stroke-width="2.1"/>
<rect x="615.9" y="918.5" width="332.9" height="335.1" fill="none" stroke="#1c1412" stroke-width="2.3"/>
<line x1="615.9" y1="1240.7" x2="624.2" y2="1240.7" stroke="#1c1412" stroke-width="2"/>
<line x1="615.9" y1="1163.42" x2="624.2" y2="1163.42" stroke="#1c1412" stroke-width="2"/>
<line x1="615.9" y1="1086.15" x2="624.2" y2="1086.15" stroke="#1c1412" stroke-width="2"/>
<line x1="615.9" y1="1008.88" x2="624.2" y2="1008.88" stroke="#1c1412" stroke-width="2"/>
<line x1="615.9" y1="931.6" x2="624.2" y2="931.6" stroke="#1c1412" stroke-width="2"/>
<line x1="615.9" y1="1202.06" x2="620.2" y2="1202.06" stroke="#1c1412" stroke-width="2"/>
<line x1="615.9" y1="1124.79" x2="620.2" y2="1124.79" stroke="#1c1412" stroke-width="2"/>
<line x1="615.9" y1="1047.51" x2="620.2" y2="1047.51" stroke="#1c1412" stroke-width="2"/>
<line x1="615.9" y1="970.24" x2="620.2" y2="970.24" stroke="#1c1412" stroke-width="2"/>
<line x1="643.64" y1="1253.6" x2="643.64" y2="1245.6" stroke="#1c1412" stroke-width="2"/>
<line x1="671.38" y1="1253.6" x2="671.38" y2="1245.6" stroke="#1c1412" stroke-width="2"/>
<line x1="699.12" y1="1253.6" x2="699.12" y2="1245.6" stroke="#1c1412" stroke-width="2"/>
<line x1="726.87" y1="1253.6" x2="726.87" y2="1245.6" stroke="#1c1412" stroke-width="2"/>
<line x1="754.61" y1="1253.6" x2="754.61" y2="1245.6" stroke="#1c1412" stroke-width="2"/>
<line x1="782.35" y1="1253.6" x2="782.35" y2="1245.6" stroke="#1c1412" stroke-width="2"/>
<line x1="810.09" y1="1253.6" x2="810.09" y2="1245.6" stroke="#1c1412" stroke-width="2"/>
<line x1="837.83" y1="1253.6" x2="837.83" y2="1245.6" stroke="#1c1412" stroke-width="2"/>
<line x1="865.57" y1="1253.6" x2="865.57" y2="1245.6" stroke="#1c1412" stroke-width="2"/>
<line x1="893.32" y1="1253.6" x2="893.32" y2="1245.6" stroke="#1c1412" stroke-width="2"/>
<line x1="921.06" y1="1253.6" x2="921.06" y2="1245.6" stroke="#1c1412" stroke-width="2"/>
<line x1="629.77" y1="1253.6" x2="629.77" y2="1249" stroke="#1c1412" stroke-width="2"/>
<line x1="657.51" y1="1253.6" x2="657.51" y2="1249" stroke="#1c1412" stroke-width="2"/>
<line x1="685.25" y1="1253.6" x2="685.25" y2="1249" stroke="#1c1412" stroke-width="2"/>
<line x1="713" y1="1253.6" x2="713" y2="1249" stroke="#1c1412" stroke-width="2"/>
<line x1="740.74" y1="1253.6" x2="740.74" y2="1249" stroke="#1c1412" stroke-width="2"/>
<line x1="768.48" y1="1253.6" x2="768.48" y2="1249" stroke="#1c1412" stroke-width="2"/>
<line x1="796.22" y1="1253.6" x2="796.22" y2="1249" stroke="#1c1412" stroke-width="2"/>
<line x1="823.96" y1="1253.6" x2="823.96" y2="1249" stroke="#1c1412" stroke-width="2"/>
<line x1="851.7" y1="1253.6" x2="851.7" y2="1249" stroke="#1c1412" stroke-width="2"/>
<line x1="879.45" y1="1253.6" x2="879.45" y2="1249" stroke="#1c1412" stroke-width="2"/>
<line x1="907.19" y1="1253.6" x2="907.19" y2="1249" stroke="#1c1412" stroke-width="2"/>
<line x1="934.93" y1="1253.6" x2="934.93" y2="1249" stroke="#1c1412" stroke-width="2"/>
<line x1="648.98" y1="1041.06" x2="666.05" y2="1031.34" stroke="#1c1412" stroke-width="3.0"/>
<line x1="676.67" y1="1025.21" x2="693.84" y2="1015.19" stroke="#1c1412" stroke-width="3.0"/>
<line x1="704.94" y1="1009.61" x2="721.05" y2="1002.69" stroke="#1c1412" stroke-width="3.0"/>
<line x1="733.06" y1="998.15" x2="748.42" y2="993.05" stroke="#1c1412" stroke-width="3.0"/>
<line x1="761.31" y1="989.55" x2="775.65" y2="986.45" stroke="#1c1412" stroke-width="3.0"/>
<line x1="789.74" y1="984.39" x2="802.7" y2="983.31" stroke="#1c1412" stroke-width="3.0"/>
<line x1="817.99" y1="982.7" x2="829.93" y2="982.7" stroke="#1c1412" stroke-width="3.0"/>
<line x1="845.44" y1="983.06" x2="857.97" y2="983.64" stroke="#1c1412" stroke-width="3.0"/>
<line x1="872.82" y1="984.78" x2="886.07" y2="986.22" stroke="#1c1412" stroke-width="3.0"/>
<line x1="900.51" y1="987.86" x2="913.87" y2="989.44" stroke="#1c1412" stroke-width="3.0"/>
<path d="M643.64,1037.5 L650.24,1044.1 L643.64,1050.7 L637.04,1044.1 Z" fill="#1c1412" stroke="#1c1412" stroke-width="0.6" stroke-linejoin="round"/>
<path d="M671.38,1021.7 L677.98,1028.3 L671.38,1034.9 L664.78,1028.3 Z" fill="#1c1412" stroke="#1c1412" stroke-width="0.6" stroke-linejoin="round"/>
<path d="M699.12,1005.5 L705.73,1012.1 L699.12,1018.7 L692.52,1012.1 Z" fill="#1c1412" stroke="#1c1412" stroke-width="0.6" stroke-linejoin="round"/>
<path d="M726.87,993.6 L733.47,1000.2 L726.87,1006.8 L720.27,1000.2 Z" fill="#1c1412" stroke="#1c1412" stroke-width="0.6" stroke-linejoin="round"/>
<path d="M754.61,984.4 L761.21,991 L754.61,997.6 L748.01,991 Z" fill="#1c1412" stroke="#1c1412" stroke-width="0.6" stroke-linejoin="round"/>
<path d="M782.35,978.4 L788.95,985 L782.35,991.6 L775.75,985 Z" fill="#1c1412" stroke="#1c1412" stroke-width="0.6" stroke-linejoin="round"/>
<path d="M810.09,976.1 L816.69,982.7 L810.09,989.3 L803.49,982.7 Z" fill="#1c1412" stroke="#1c1412" stroke-width="0.6" stroke-linejoin="round"/>
<path d="M837.83,976.1 L844.43,982.7 L837.83,989.3 L831.23,982.7 Z" fill="#1c1412" stroke="#1c1412" stroke-width="0.6" stroke-linejoin="round"/>
<path d="M865.57,977.4 L872.17,984 L865.57,990.6 L858.97,984 Z" fill="#1c1412" stroke="#1c1412" stroke-width="0.6" stroke-linejoin="round"/>
<path d="M893.32,980.4 L899.92,987 L893.32,993.6 L886.72,987 Z" fill="#1c1412" stroke="#1c1412" stroke-width="0.6" stroke-linejoin="round"/>
<path d="M921.06,983.7 L927.66,990.3 L921.06,996.9 L914.46,990.3 Z" fill="#1c1412" stroke="#1c1412" stroke-width="0.6" stroke-linejoin="round"/>
<line x1="648.81" y1="1113.25" x2="666.22" y2="1099.95" stroke="#1c1412" stroke-width="3.0"/>
<line x1="676.85" y1="1092.48" x2="693.66" y2="1081.62" stroke="#1c1412" stroke-width="3.0"/>
<line x1="704.91" y1="1075.14" x2="721.08" y2="1066.86" stroke="#1c1412" stroke-width="3.0"/>
<line x1="732.92" y1="1061.52" x2="748.56" y2="1055.38" stroke="#1c1412" stroke-width="3.0"/>
<line x1="760.93" y1="1051.5" x2="776.03" y2="1047.9" stroke="#1c1412" stroke-width="3.0"/>
<line x1="788.8" y1="1045.63" x2="803.64" y2="1043.87" stroke="#1c1412" stroke-width="3.0"/>
<line x1="816.58" y1="1042.8" x2="831.34" y2="1042.1" stroke="#1c1412" stroke-width="3.0"/>
<line x1="844.33" y1="1042.1" x2="859.08" y2="1042.8" stroke="#1c1412" stroke-width="3.0"/>
<line x1="872.06" y1="1043.57" x2="886.83" y2="1044.63" stroke="#1c1412" stroke-width="3.0"/>
<line x1="899.79" y1="1045.64" x2="914.58" y2="1046.86" stroke="#1c1412" stroke-width="3.0"/>
<circle cx="643.64" cy="1117.2" r="4.6" fill="#fff" stroke="#1c1412" stroke-width="2.1"/>
<circle cx="671.38" cy="1096" r="4.6" fill="#fff" stroke="#1c1412" stroke-width="2.1"/>
<circle cx="699.12" cy="1078.1" r="4.6" fill="#fff" stroke="#1c1412" stroke-width="2.1"/>
<circle cx="726.87" cy="1063.9" r="4.6" fill="#fff" stroke="#1c1412" stroke-width="2.1"/>
<circle cx="754.61" cy="1053" r="4.6" fill="#fff" stroke="#1c1412" stroke-width="2.1"/>
<circle cx="782.35" cy="1046.4" r="4.6" fill="#fff" stroke="#1c1412" stroke-width="2.1"/>
<circle cx="810.09" cy="1043.1" r="4.6" fill="#fff" stroke="#1c1412" stroke-width="2.1"/>
<circle cx="837.83" cy="1041.8" r="4.6" fill="#fff" stroke="#1c1412" stroke-width="2.1"/>
<circle cx="865.57" cy="1043.1" r="4.6" fill="#fff" stroke="#1c1412" stroke-width="2.1"/>
<circle cx="893.32" cy="1045.1" r="4.6" fill="#fff" stroke="#1c1412" stroke-width="2.1"/>
<circle cx="921.06" cy="1047.4" r="4.6" fill="#fff" stroke="#1c1412" stroke-width="2.1"/>
<text x="103.9" y="941.3" font-size="33" text-anchor="end" textLength="46" lengthAdjust="spacingAndGlyphs" fill="#000"  >2.4</text>
<text x="103.9" y="1018.5" font-size="33" text-anchor="end" textLength="46" lengthAdjust="spacingAndGlyphs" fill="#000"  >1.8</text>
<text x="103.9" y="1095.8" font-size="33" text-anchor="end" textLength="46" lengthAdjust="spacingAndGlyphs" fill="#000"  >1.2</text>
<text x="103.9" y="1173.2" font-size="33" text-anchor="end" textLength="46" lengthAdjust="spacingAndGlyphs" fill="#000"  >0.6</text>
<text x="103.9" y="1250.6" font-size="33" text-anchor="end" textLength="16" lengthAdjust="spacingAndGlyphs" fill="#000"  >0</text>
<text x="608" y="942.6" font-size="33" text-anchor="end" textLength="46" lengthAdjust="spacingAndGlyphs" fill="#000"  >2.4</text>
<text x="608" y="1019.9" font-size="33" text-anchor="end" textLength="46" lengthAdjust="spacingAndGlyphs" fill="#000"  >1.8</text>
<text x="608" y="1097.1" font-size="33" text-anchor="end" textLength="46" lengthAdjust="spacingAndGlyphs" fill="#000"  >1.2</text>
<text x="608" y="1174.4" font-size="33" text-anchor="end" textLength="46" lengthAdjust="spacingAndGlyphs" fill="#000"  >0.6</text>
<text x="608" y="1251.7" font-size="33" text-anchor="end" textLength="16" lengthAdjust="spacingAndGlyphs" fill="#000"  >0</text>
<text transform="translate(28.5,1228.7) rotate(-90)" x="0" y="0" font-size="33" textLength="271" lengthAdjust="spacingAndGlyphs" fill="#000">Energy gap (eV)</text>
<text transform="translate(535.5,1232.2) rotate(-90)" x="0" y="0" font-size="33" textLength="271.2" lengthAdjust="spacingAndGlyphs" fill="#000">Energy gap (eV)</text>
<text x="11.4" y="916.5" font-size="33" text-anchor="start" textLength="39.7" lengthAdjust="spacingAndGlyphs" fill="#000"  >(e)</text>
<text x="504.3" y="930" font-size="33" text-anchor="start" textLength="38.3" lengthAdjust="spacingAndGlyphs" fill="#000"  >(f)</text>
<rect x="100.8" y="1273.95" width="22" height="2.3" fill="#000"/>
<text x="143.5" y="1283.6" font-size="33" text-anchor="end" textLength="15.5" lengthAdjust="spacingAndGlyphs" fill="#000"  >6</text>
<rect x="200.1" y="1273.95" width="22" height="2.3" fill="#000"/>
<text x="242.7" y="1283.6" font-size="33" text-anchor="end" textLength="15.5" lengthAdjust="spacingAndGlyphs" fill="#000"  >2</text>
<text x="341.2" y="1283.6" font-size="33" text-anchor="end" textLength="15.5" lengthAdjust="spacingAndGlyphs" fill="#000"  >2</text>
<text x="450.8" y="1283.6" font-size="33" text-anchor="end" textLength="15.5" lengthAdjust="spacingAndGlyphs" fill="#000"  >6</text>
<rect x="605.8" y="1273.95" width="22" height="2.3" fill="#000"/>
<text x="648.5" y="1283.6" font-size="33" text-anchor="end" textLength="15.5" lengthAdjust="spacingAndGlyphs" fill="#000"  >6</text>
<rect x="729.9" y="1273.95" width="22" height="2.3" fill="#000"/>
<text x="772.5" y="1283.6" font-size="33" text-anchor="end" textLength="15.5" lengthAdjust="spacingAndGlyphs" fill="#000"  >2</text>
<text x="846.2" y="1283.6" font-size="33" text-anchor="end" textLength="15.5" lengthAdjust="spacingAndGlyphs" fill="#000"  >2</text>
<text x="955.8" y="1283.6" font-size="33" text-anchor="end" textLength="15.5" lengthAdjust="spacingAndGlyphs" fill="#000"  >6</text>
<text x="190.3" y="1323.2" font-size="33" text-anchor="start" textLength="172.4" lengthAdjust="spacingAndGlyphs" fill="#000"  >Strain (%)</text>
<text x="710.3" y="1330.4" font-size="33" text-anchor="start" textLength="172.4" lengthAdjust="spacingAndGlyphs" fill="#000"  >Strain (%)</text>
<text x="317.1" y="1151.6" font-size="33" text-anchor="start" textLength="112" lengthAdjust="spacingAndGlyphs" fill="#000"  >CuHSe</text>
<line x1="141.2" y1="1177.8" x2="197.2" y2="1177.8" stroke="#1c1412" stroke-width="3"/>
<path d="M169.2,1171.4 L175.6,1177.8 L169.2,1184.2 L162.8,1177.8 Z" fill="#1c1412"/>
<line x1="141.2" y1="1219.4" x2="197.2" y2="1219.4" stroke="#1c1412" stroke-width="3"/>
<circle cx="169.2" cy="1219.4" r="4.6" fill="#fff" stroke="#1c1412" stroke-width="2.1"/>
<text x="203.6" y="1187.4" font-size="33" text-anchor="start" textLength="72" lengthAdjust="spacingAndGlyphs" fill="#000"  >HSE</text>
<text x="203.6" y="1228.4" font-size="33" textLength="134.4" lengthAdjust="spacingAndGlyphs" fill="#000">LDA+<tspan font-style="italic">U</tspan></text>
<text x="817.1" y="1152.2" font-size="33" text-anchor="start" textLength="116.9" lengthAdjust="spacingAndGlyphs" fill="#000"  >CuLiSe</text>
<line x1="642.2" y1="1182" x2="697.2" y2="1182" stroke="#1c1412" stroke-width="3"/>
<path d="M669.7,1175.6 L676.1,1182 L669.7,1188.4 L663.3,1182 Z" fill="#1c1412"/>
<line x1="642.2" y1="1218.8" x2="697.2" y2="1218.8" stroke="#1c1412" stroke-width="3"/>
<circle cx="669.7" cy="1218.8" r="4.6" fill="#fff" stroke="#1c1412" stroke-width="2.1"/>
<text x="703.6" y="1190.6" font-size="33" text-anchor="start" textLength="72" lengthAdjust="spacingAndGlyphs" fill="#000"  >HSE</text>
<text x="703.6" y="1227.7" font-size="33" textLength="134.4" lengthAdjust="spacingAndGlyphs" fill="#000">LDA+<tspan font-style="italic">U</tspan></text>
</svg></body></html>
